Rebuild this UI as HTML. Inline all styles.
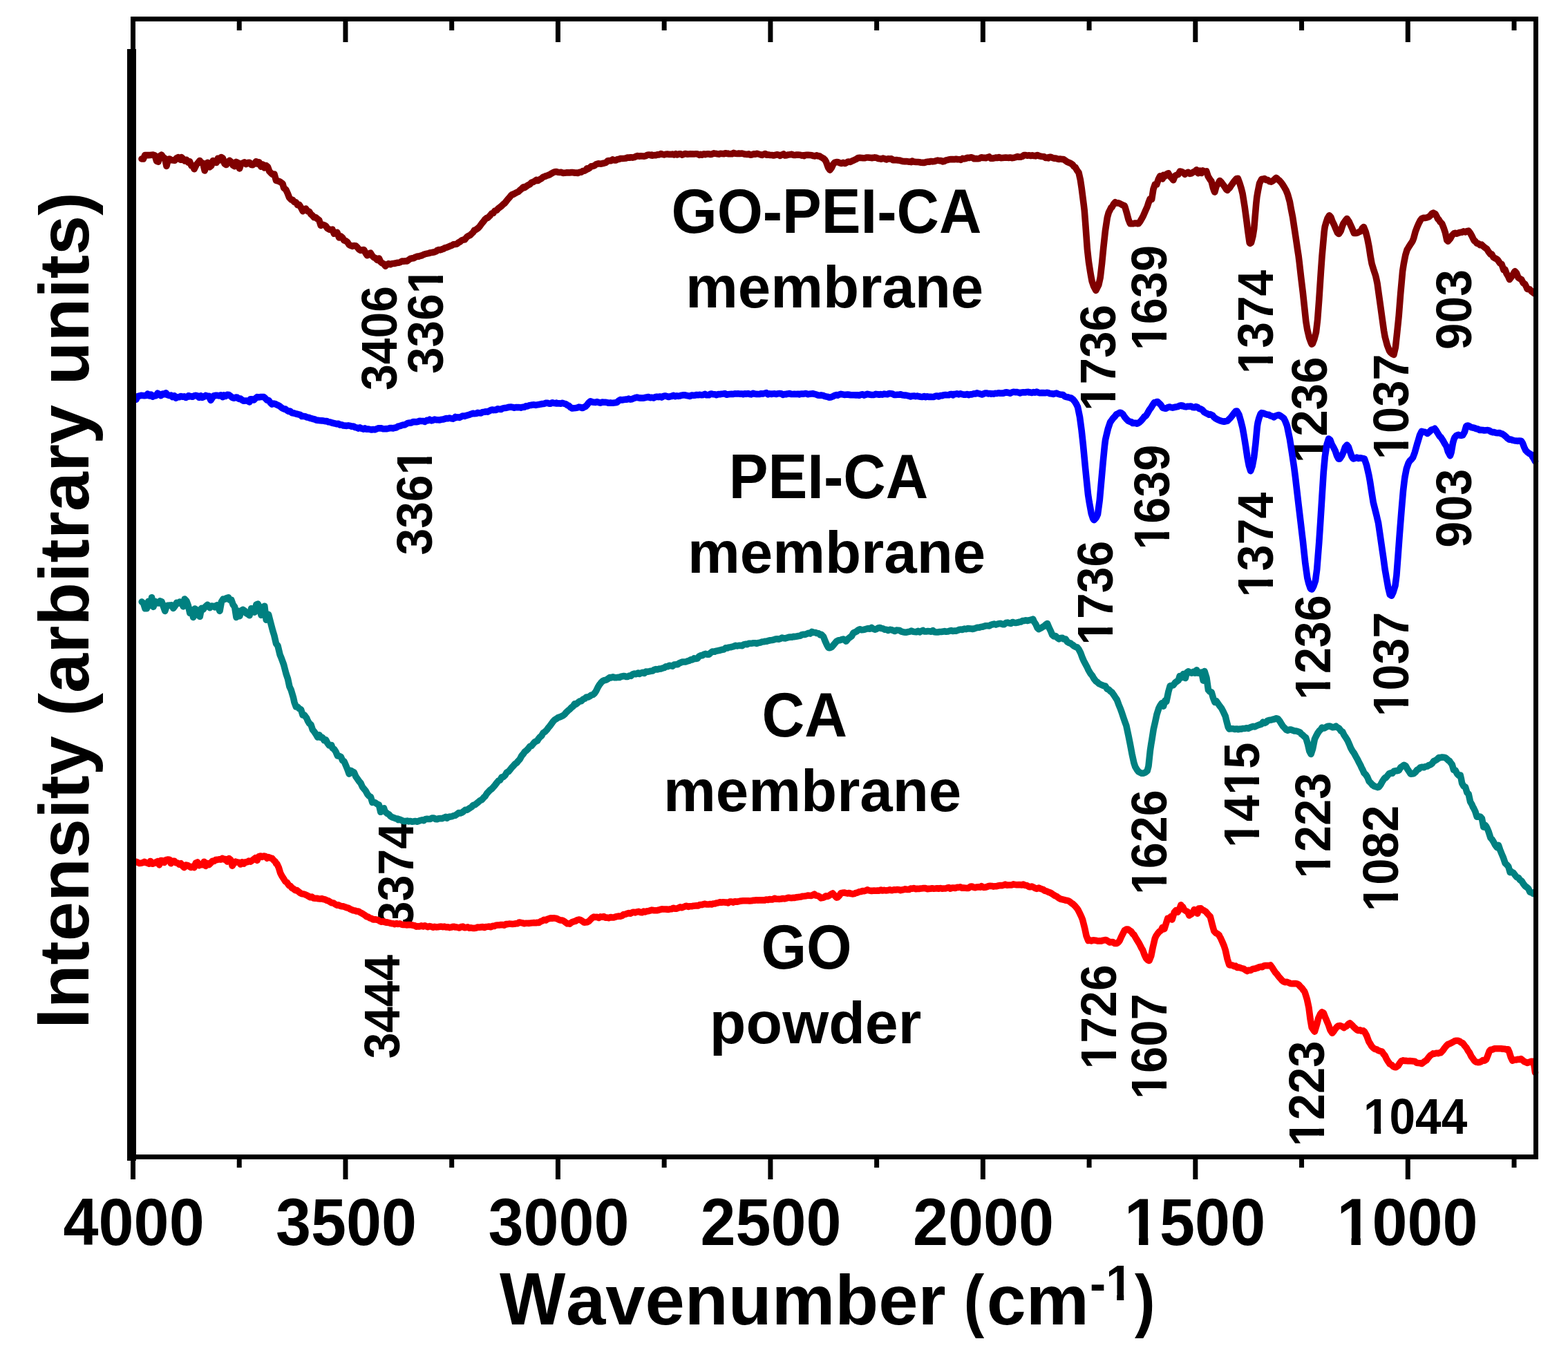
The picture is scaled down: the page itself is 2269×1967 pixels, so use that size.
<!DOCTYPE html><html><head><meta charset="utf-8"><style>html,body{margin:0;padding:0;background:#fff;overflow:hidden;}svg{display:block;}text{font-family:"Liberation Sans",Arial,sans-serif;font-weight:bold;fill:#000;}</style></head><body>
<svg width="2269" height="1967" viewBox="0 0 2269 1967">
<rect x="0" y="0" width="2269" height="1967" fill="#fff"/>
<text transform="translate(91.55,1801.7) scale(0.9530,1)" font-size="96.3">4000</text>
<text transform="translate(399.01,1801.7) scale(0.9530,1)" font-size="96.3">3500</text>
<text transform="translate(706.48,1801.7) scale(0.9530,1)" font-size="96.3">3000</text>
<text transform="translate(1013.48,1801.7) scale(0.9530,1)" font-size="96.3">2500</text>
<text transform="translate(1320.95,1801.7) scale(0.9530,1)" font-size="96.3">2000</text>
<text transform="translate(1627.04,1801.7) scale(0.9530,1)" font-size="96.3">1500</text>
<text transform="translate(1934.5,1801.7) scale(0.9530,1)" font-size="96.3">1000</text>
<text transform="translate(723.1,1916.8) scale(0.9445,1)" font-size="107">W</text>
<text transform="translate(818.91,1916.8) scale(1.0162,1)" font-size="101.4">avenumber</text>
<text transform="translate(1394.54,1915.9) scale(0.8929,1)" font-size="100">(</text>
<text transform="translate(1427.8,1916.8) scale(1.0097,1)" font-size="101.4">cm</text>
<text transform="translate(1577.12,1881.9) scale(0.9595,1)" font-size="72.46">-1</text>
<text transform="translate(1642,1915.82) scale(0.8902,1)" font-size="99.89">)</text>
<text transform="translate(128.1,1489.2) rotate(-90) scale(1.0,1)" font-size="102.8"><tspan font-size="107.7">I</tspan>ntensity <tspan font-size="100.75">(</tspan>arbitrary units<tspan font-size="100.75">)</tspan></text>
<text transform="translate(971.5,337) scale(0.9418,1)" font-size="90.3">GO-PEI-CA</text>
<text transform="translate(992.03,444.9) scale(0.9997,1)" font-size="85.3">membrane</text>
<text transform="translate(1054.74,721.3) scale(0.9411,1)" font-size="90.5">PEI-CA</text>
<text transform="translate(995.03,828.8) scale(0.9994,1)" font-size="85.3">membrane</text>
<text transform="translate(1102.48,1065.6) scale(0.9453,1)" font-size="90.5">CA</text>
<text transform="translate(960.03,1173.9) scale(0.9997,1)" font-size="85.3">membrane</text>
<text transform="translate(1101.53,1401.9) scale(0.9313,1)" font-size="90.5">GO</text>
<text transform="translate(1026.87,1509.9) scale(1.0105,1)" font-size="85.3">powder</text>
<text transform="translate(1972.94,1640.98) scale(0.9447,1)" font-size="71.55">1044</text>
<text transform="translate(574.02,564.96) rotate(-90) scale(0.9494,1)" font-size="71.5">3406</text>
<text transform="translate(641.12,540.99) rotate(-90) scale(0.9701,1)" font-size="71.5">3361</text>
<text transform="translate(624.92,803.49) rotate(-90) scale(0.9728,1)" font-size="71.5">3361</text>
<text transform="translate(598.22,1342.46) rotate(-90) scale(0.9530,1)" font-size="71.5">3374</text>
<text transform="translate(578.37,1532.35) rotate(-90) scale(0.9453,1)" font-size="71.5">3444</text>
<text transform="translate(1613.87,594.95) rotate(-90) scale(0.9672,1)" font-size="71.5">1736</text>
<text transform="translate(1688.07,507.31) rotate(-90) scale(0.9580,1)" font-size="71.5">1639</text>
<text transform="translate(1841.57,541.36) rotate(-90) scale(0.9473,1)" font-size="71.5">1374</text>
<text transform="translate(1920.17,670.35) rotate(-90) scale(0.9679,1)" font-size="71.5">1236</text>
<text transform="translate(2038.07,665.22) rotate(-90) scale(0.9605,1)" font-size="71.5">1037</text>
<text transform="translate(2129.37,506.18) rotate(-90) scale(0.9737,1)" font-size="71.5">903</text>
<text transform="translate(1609.52,933.67) rotate(-90) scale(0.9495,1)" font-size="71.5">1736</text>
<text transform="translate(1691.87,795.8) rotate(-90) scale(0.9560,1)" font-size="71.5">1639</text>
<text transform="translate(1841.57,864.39) rotate(-90) scale(0.9538,1)" font-size="71.5">1374</text>
<text transform="translate(1924.57,1012.93) rotate(-90) scale(0.9530,1)" font-size="71.5">1236</text>
<text transform="translate(2037.77,1037.34) rotate(-90) scale(0.9530,1)" font-size="71.5">1037</text>
<text transform="translate(2129.47,792.84) rotate(-90) scale(0.9579,1)" font-size="71.5">903</text>
<text transform="translate(1687.97,1295.03) rotate(-90) scale(0.9530,1)" font-size="71.5">1626</text>
<text transform="translate(1822.16,1227.11) rotate(-90) scale(0.9588,1)" font-size="71.5">1415</text>
<text transform="translate(1924.97,1271.42) rotate(-90) scale(0.9606,1)" font-size="71.5">1223</text>
<text transform="translate(2022.82,1319.14) rotate(-90) scale(0.9652,1)" font-size="71.5">1082</text>
<text transform="translate(1614.57,1547.48) rotate(-90) scale(0.9508,1)" font-size="71.5">1726</text>
<text transform="translate(1687.67,1591.12) rotate(-90) scale(0.9612,1)" font-size="71.5">1607</text>
<text transform="translate(1915.97,1659.42) rotate(-90) scale(0.9606,1)" font-size="71.5">1223</text>
<g transform="translate(1627.04,1801.7) scale(0.9530,1)"><rect x="4.33" y="-12.52" width="17.72" height="14.44" fill="#fff"/><rect x="36.02" y="-12.52" width="16.47" height="14.44" fill="#fff"/></g>
<g transform="translate(1934.5,1801.7) scale(0.9530,1)"><rect x="4.33" y="-12.52" width="17.72" height="14.44" fill="#fff"/><rect x="36.02" y="-12.52" width="16.47" height="14.44" fill="#fff"/></g>
<g transform="translate(1577.12,1881.9) scale(0.9595,1)"><rect x="27.39" y="-9.42" width="13.33" height="10.87" fill="#fff"/><rect x="51.23" y="-9.42" width="12.39" height="10.87" fill="#fff"/></g>
<g transform="translate(1972.94,1640.98) scale(0.9447,1)"><rect x="3.22" y="-9.3" width="13.17" height="10.73" fill="#fff"/><rect x="26.76" y="-9.3" width="12.23" height="10.73" fill="#fff"/></g>
<g transform="translate(641.12,540.99) rotate(-90) scale(0.9701,1)"><rect x="122.51" y="-9.29" width="13.16" height="10.72" fill="#fff"/><rect x="146.04" y="-9.29" width="12.23" height="10.72" fill="#fff"/></g>
<g transform="translate(624.92,803.49) rotate(-90) scale(0.9728,1)"><rect x="122.51" y="-9.29" width="13.16" height="10.72" fill="#fff"/><rect x="146.04" y="-9.29" width="12.23" height="10.72" fill="#fff"/></g>
<g transform="translate(1613.87,594.95) rotate(-90) scale(0.9672,1)"><rect x="3.22" y="-9.29" width="13.16" height="10.72" fill="#fff"/><rect x="26.74" y="-9.29" width="12.23" height="10.72" fill="#fff"/></g>
<g transform="translate(1688.07,507.31) rotate(-90) scale(0.9580,1)"><rect x="3.22" y="-9.29" width="13.16" height="10.72" fill="#fff"/><rect x="26.74" y="-9.29" width="12.23" height="10.72" fill="#fff"/></g>
<g transform="translate(1841.57,541.36) rotate(-90) scale(0.9473,1)"><rect x="3.22" y="-9.29" width="13.16" height="10.72" fill="#fff"/><rect x="26.74" y="-9.29" width="12.23" height="10.72" fill="#fff"/></g>
<g transform="translate(1920.17,670.35) rotate(-90) scale(0.9679,1)"><rect x="3.22" y="-9.29" width="13.16" height="10.72" fill="#fff"/><rect x="26.74" y="-9.29" width="12.23" height="10.72" fill="#fff"/></g>
<g transform="translate(2038.07,665.22) rotate(-90) scale(0.9605,1)"><rect x="3.22" y="-9.29" width="13.16" height="10.72" fill="#fff"/><rect x="26.74" y="-9.29" width="12.23" height="10.72" fill="#fff"/></g>
<g transform="translate(1609.52,933.67) rotate(-90) scale(0.9495,1)"><rect x="3.22" y="-9.29" width="13.16" height="10.72" fill="#fff"/><rect x="26.74" y="-9.29" width="12.23" height="10.72" fill="#fff"/></g>
<g transform="translate(1691.87,795.8) rotate(-90) scale(0.9560,1)"><rect x="3.22" y="-9.29" width="13.16" height="10.72" fill="#fff"/><rect x="26.74" y="-9.29" width="12.23" height="10.72" fill="#fff"/></g>
<g transform="translate(1841.57,864.39) rotate(-90) scale(0.9538,1)"><rect x="3.22" y="-9.29" width="13.16" height="10.72" fill="#fff"/><rect x="26.74" y="-9.29" width="12.23" height="10.72" fill="#fff"/></g>
<g transform="translate(1924.57,1012.93) rotate(-90) scale(0.9530,1)"><rect x="3.22" y="-9.29" width="13.16" height="10.72" fill="#fff"/><rect x="26.74" y="-9.29" width="12.23" height="10.72" fill="#fff"/></g>
<g transform="translate(2037.77,1037.34) rotate(-90) scale(0.9530,1)"><rect x="3.22" y="-9.29" width="13.16" height="10.72" fill="#fff"/><rect x="26.74" y="-9.29" width="12.23" height="10.72" fill="#fff"/></g>
<g transform="translate(1687.97,1295.03) rotate(-90) scale(0.9530,1)"><rect x="3.22" y="-9.29" width="13.16" height="10.72" fill="#fff"/><rect x="26.74" y="-9.29" width="12.23" height="10.72" fill="#fff"/></g>
<g transform="translate(1822.16,1227.11) rotate(-90) scale(0.9588,1)"><rect x="3.22" y="-9.29" width="13.16" height="10.72" fill="#fff"/><rect x="26.74" y="-9.29" width="12.23" height="10.72" fill="#fff"/></g>
<g transform="translate(1822.16,1227.11) rotate(-90) scale(0.9588,1)"><rect x="82.75" y="-9.29" width="13.16" height="10.72" fill="#fff"/><rect x="106.27" y="-9.29" width="12.23" height="10.72" fill="#fff"/></g>
<g transform="translate(1924.97,1271.42) rotate(-90) scale(0.9606,1)"><rect x="3.22" y="-9.29" width="13.16" height="10.72" fill="#fff"/><rect x="26.74" y="-9.29" width="12.23" height="10.72" fill="#fff"/></g>
<g transform="translate(2022.82,1319.14) rotate(-90) scale(0.9652,1)"><rect x="3.22" y="-9.29" width="13.16" height="10.72" fill="#fff"/><rect x="26.74" y="-9.29" width="12.23" height="10.72" fill="#fff"/></g>
<g transform="translate(1614.57,1547.48) rotate(-90) scale(0.9508,1)"><rect x="3.22" y="-9.29" width="13.16" height="10.72" fill="#fff"/><rect x="26.74" y="-9.29" width="12.23" height="10.72" fill="#fff"/></g>
<g transform="translate(1687.67,1591.12) rotate(-90) scale(0.9612,1)"><rect x="3.22" y="-9.29" width="13.16" height="10.72" fill="#fff"/><rect x="26.74" y="-9.29" width="12.23" height="10.72" fill="#fff"/></g>
<g transform="translate(1915.97,1659.42) rotate(-90) scale(0.9606,1)"><rect x="3.22" y="-9.29" width="13.16" height="10.72" fill="#fff"/><rect x="26.74" y="-9.29" width="12.23" height="10.72" fill="#fff"/></g>
<path d="M196.9,1247.27 L199.3,1248.28 L201.7,1249.49 L204.1,1249.19 L206.5,1248.67 L208.9,1247.37 L211.3,1248.53 L213.7,1249.24 L216.1,1250.18 L217.6,1246.52 L218.5,1247.14 L220.9,1250.15 L223.3,1249.3 L225.7,1247.87 L228.1,1246.67 L230.5,1251.83 L232.9,1245.63 L235.3,1245.87 L237.7,1248.44 L240.1,1244.66 L242.5,1244.15 L245.2,1244.36 L247.3,1249.72 L249.7,1246.28 L252.1,1246.19 L254.5,1248.7 L256.9,1249.02 L259.3,1251.15 L261.7,1249.84 L264.1,1253.29 L266.5,1255.69 L268.9,1252.04 L271.3,1252.41 L273.7,1253.93 L276.1,1255.42 L278.5,1254.18 L281,1255.63 L283.3,1249.1 L285.7,1248.03 L288.1,1252.64 L290.5,1251.28 L292.9,1251.68 L295.3,1247.3 L297.7,1253.41 L300.3,1249.51 L302.5,1251.62 L304.9,1249.19 L307.3,1246.25 L309.7,1246.56 L312.1,1244.6 L314.5,1244.36 L316.9,1243.86 L319.6,1244.08 L321.7,1242.36 L324.1,1243.89 L326.5,1243.48 L328.9,1247.1 L331.3,1242.53 L333.7,1244.5 L336.1,1253.18 L338.9,1248.48 L340.9,1247.1 L343.3,1248.04 L345.7,1248.29 L348.1,1250.96 L350.5,1247.88 L352.9,1250.07 L355.5,1247.89 L357.7,1247.69 L360.1,1246.15 L362.5,1247.19 L364.9,1245.47 L367.3,1243.6 L369.7,1241.66 L372.1,1245.34 L374.5,1239.74 L377.5,1238.98 L379.3,1240.34 L381.7,1239.03 L384.1,1239.47 L386.5,1242.21 L388.6,1240.67 L391.3,1241.79 L393.7,1242.44 L396.1,1245.27 L398.5,1247.17 L399.6,1249.93 L400.9,1250.36 L403.3,1255.67 L405.7,1263.54 L407.9,1267.98 L410.5,1271.94 L412.9,1275.73 L415.3,1277.34 L417.7,1280.95 L418.9,1282.16 L420.1,1282.2 L422.5,1285.25 L424.9,1286.57 L427.3,1288.59 L429.7,1288.62 L432.7,1291.19 L434.5,1292.5 L436.9,1293.76 L439.3,1293.94 L441.7,1294.76 L444.1,1295.84 L446.5,1297.25 L449.2,1298.8 L451.3,1298.15 L453.7,1300.01 L456.1,1300.21 L458.5,1300.18 L460.9,1300.68 L463.3,1300.97 L465.8,1300.65 L468.1,1301.58 L470.5,1302.01 L472.9,1303.33 L475.3,1303.93 L477.7,1305.44 L480.1,1306.76 L482.5,1306.98 L484.9,1308.68 L487.9,1310.17 L489.7,1309.72 L492.1,1311.19 L494.5,1311.74 L496.9,1311.84 L499.3,1312.86 L501.7,1313.77 L504.1,1314.13 L506.5,1315.8 L508.9,1316.72 L511.3,1317.71 L513.7,1317.93 L515.4,1318.97 L518.5,1319.03 L520.9,1320.41 L523.3,1321.67 L525.7,1323.15 L528.1,1324.54 L530.5,1326.64 L532.9,1327.23 L535.3,1328.89 L537.7,1329.42 L540.1,1331.05 L543,1330.77 L544.9,1331.15 L547.3,1331.74 L549.7,1333.25 L552.1,1334.16 L554.5,1333.48 L556.9,1334.71 L559.3,1334.88 L561.7,1335.21 L564.1,1336 L566.5,1336.64 L568.9,1336.79 L571.3,1337.6 L573.7,1336.49 L576.1,1337.39 L578.5,1336.9 L580.9,1338.03 L583.3,1338.42 L585.7,1338.58 L588.1,1338.84 L590.5,1338.66 L592.9,1338.65 L595.3,1338.7 L597.7,1339.25 L600.1,1339.73 L602.5,1341.13 L604.9,1340.66 L607.3,1340.96 L609.7,1339.83 L612.1,1340.96 L614.5,1339.71 L617.5,1341.06 L619.3,1341.72 L621.7,1340.67 L624.1,1341.17 L626.5,1342.23 L628.9,1341.4 L631.3,1341.84 L633.7,1341.71 L636.1,1341.3 L638.5,1341.04 L640.9,1341.66 L643.3,1341.16 L645.7,1342.04 L648.1,1341.72 L650.5,1342.58 L652.9,1342.13 L655.3,1341.33 L657.7,1341.39 L658.8,1341.97 L660.1,1341.85 L662.5,1342.37 L664.9,1343 L667.3,1341.53 L669.7,1341.13 L672.1,1342.71 L674.5,1342.44 L676.9,1341.89 L679.3,1343.17 L681.7,1342.85 L684.1,1343.44 L686.4,1343.41 L688.9,1343.05 L691.3,1342 L693.7,1342.17 L696.1,1341.88 L698.5,1341.65 L700.9,1342.45 L703.3,1341.5 L705.7,1341.32 L708.1,1341.07 L710.5,1341.77 L712.9,1340.25 L715.3,1340.46 L717.7,1339.27 L720.1,1338.95 L722.5,1338.95 L724.9,1338.53 L727.8,1338.6 L729.7,1339.2 L732.1,1337.67 L734.5,1337.63 L736.9,1337.12 L739.3,1337.18 L741.7,1337.51 L744.1,1337.33 L746.5,1336.75 L748.9,1336.79 L750,1335.76 L751.3,1334.99 L753.7,1335.46 L756.1,1335.89 L758.5,1336.67 L760.9,1336.32 L763.3,1336.22 L765.7,1336.38 L768.1,1335.98 L770.5,1335.82 L772.9,1335.66 L775.3,1335.8 L777.6,1335.23 L780.1,1335.38 L782.5,1333.64 L784.9,1332.89 L787.3,1331.26 L789.7,1332 L792.1,1330.29 L794.5,1329.65 L796.9,1328.86 L799.3,1329.13 L801.7,1328.83 L804.1,1329.14 L806.5,1329.88 L808.9,1331.17 L810.7,1332.01 L813.7,1332.06 L816.1,1333.24 L818.5,1335.09 L820.9,1336.83 L823.3,1336.72 L824.5,1337.14 L825.7,1336.12 L828.1,1334.5 L830.5,1333.71 L832.9,1333.17 L835.3,1331.64 L838.3,1331.05 L840.1,1331.6 L842.5,1333.08 L844.9,1334.98 L846.5,1335.11 L849.7,1334.68 L852.1,1333.5 L854.5,1331.02 L856.9,1328.62 L859.3,1327.16 L860.3,1327.3 L861.7,1327.51 L864.1,1327.33 L866.5,1328.5 L868.9,1326.85 L871.3,1327.28 L873.7,1326.6 L876.1,1328.15 L878.5,1327.96 L880.9,1328.75 L883.3,1327.57 L885.7,1327.86 L887.9,1328.03 L890.5,1327.11 L892.9,1326.41 L895.3,1326.12 L897.7,1326.33 L900.1,1325.5 L902.5,1323.48 L904.9,1323.44 L907.3,1322.36 L910,1321.48 L912.1,1322.23 L914.5,1320.93 L916.9,1320.23 L919.3,1320.88 L921.7,1319.87 L924.1,1319.37 L926.5,1320.54 L928.9,1320.8 L931.3,1319.14 L933.7,1319.85 L936.1,1318.81 L938.5,1318.66 L940.9,1317.99 L943,1317.14 L945.7,1317.6 L948.1,1317.68 L950.5,1317.82 L952.9,1317.31 L955.3,1316.46 L957.7,1315.88 L960.1,1315.98 L962.5,1315.98 L964.9,1316.11 L967.3,1316.4 L969.7,1315.8 L972.1,1315.67 L974.5,1314.22 L976.9,1315.15 L979.3,1315.1 L981.7,1314.15 L984.4,1312.73 L986.5,1313.79 L988.9,1312.84 L991.3,1311.8 L993.7,1311.29 L996.1,1312.37 L998.5,1311.71 L1000.9,1311.82 L1003.3,1311.18 L1005.7,1310.98 L1008.1,1310.82 L1010.5,1310.88 L1012.9,1309.43 L1015.3,1309.58 L1017.7,1308.83 L1020.1,1308.29 L1022.5,1309.01 L1025.8,1309.04 L1027.3,1308.56 L1029.7,1309.02 L1032.1,1307.95 L1034.5,1307.91 L1036.9,1307.09 L1039.3,1306.69 L1041.7,1305.87 L1044.1,1306.21 L1046.5,1305.77 L1048.9,1306.1 L1051.3,1306.11 L1053.7,1306.84 L1056.1,1305.13 L1058.5,1305.16 L1060.9,1306.1 L1063.3,1304.7 L1065.7,1305.22 L1067.2,1305.16 L1070.5,1304.26 L1072.9,1303.99 L1075.3,1303.81 L1077.7,1303.8 L1080.1,1303.82 L1082.5,1303.68 L1084.9,1304.03 L1087.3,1303.82 L1089.7,1303.26 L1092.1,1303.14 L1094.5,1302.76 L1096.9,1303.1 L1099.3,1302.74 L1101.7,1302.87 L1104.1,1302.69 L1106.5,1303.07 L1108.5,1302.02 L1111.3,1302.39 L1113.7,1301.5 L1116.1,1301.92 L1118.5,1301.89 L1120.9,1300.25 L1123.3,1301.32 L1125.7,1301.29 L1128.1,1301.33 L1130.5,1301.03 L1132.9,1300.46 L1135.3,1300.85 L1137.7,1300.32 L1140.1,1299.38 L1142.5,1299.37 L1144.9,1299.75 L1147.3,1299.42 L1149.9,1299.46 L1152.1,1298.83 L1154.5,1298.65 L1156.9,1298.21 L1159.3,1297.94 L1161.7,1297.17 L1164.1,1297.01 L1166.5,1296.77 L1168.9,1296.06 L1171.3,1296.27 L1173.7,1296.45 L1176.1,1295.54 L1178.5,1294.18 L1180.2,1296.1 L1183.3,1296.43 L1185.7,1297.69 L1188.1,1299.83 L1191.3,1299.34 L1192.9,1298.49 L1195.3,1296.78 L1197.7,1297.52 L1200.1,1296.04 L1202.5,1294.24 L1205,1293 L1207.3,1295.72 L1210.6,1299.06 L1212.1,1298.71 L1214.5,1296.39 L1216.9,1292.74 L1218.8,1292.31 L1221.7,1292.03 L1224.1,1292.57 L1226.5,1293.09 L1228.9,1292.46 L1231.3,1293.45 L1232.6,1293.55 L1233.7,1293.88 L1236.1,1293.53 L1238.5,1292.41 L1240.9,1291.97 L1243.3,1290.76 L1246.4,1290.47 L1248.1,1289.46 L1250.5,1289.78 L1252.9,1289.02 L1255.3,1287.86 L1257.7,1288.85 L1260.1,1289.39 L1262.5,1289.41 L1264.9,1288.95 L1267.3,1289.18 L1269.7,1288.92 L1272.1,1289.15 L1274.5,1287.99 L1276.9,1289 L1279.3,1288.42 L1281.7,1288.9 L1284.1,1288.67 L1286.5,1288.31 L1287.8,1287.75 L1288.9,1288.44 L1291.3,1288.63 L1293.7,1287.71 L1296.1,1287.98 L1298.5,1287.59 L1300.9,1287.78 L1303.3,1288.62 L1305.7,1288.03 L1308.1,1287.55 L1310,1286.85 L1312.9,1287.47 L1315.3,1287.56 L1317.7,1286.13 L1320.1,1286.32 L1322.5,1285.52 L1324.9,1286.61 L1327.3,1286.36 L1329.7,1286.51 L1332.1,1286 L1334.5,1285.86 L1336.9,1285.53 L1339.3,1285.58 L1341.7,1286.64 L1344.1,1286.4 L1346.5,1286.28 L1348.9,1285.81 L1351.3,1286.24 L1353.7,1286.06 L1356.1,1285.73 L1358.5,1286.28 L1360.9,1285.5 L1363.3,1286.24 L1365.2,1285.95 L1368.1,1285.98 L1370.5,1285.18 L1372.9,1284.58 L1375.3,1286.17 L1377.7,1285.06 L1380.1,1284.97 L1382.5,1285.41 L1384.9,1284.33 L1387.3,1284.45 L1389.7,1283.87 L1392.1,1285.19 L1394.5,1284.91 L1396.9,1285.16 L1399.3,1285.42 L1401.7,1285.39 L1404.1,1283.33 L1406.5,1282.94 L1408.9,1284.22 L1411.3,1284.69 L1413.7,1283.93 L1416.1,1283.69 L1418.5,1284.13 L1420.3,1282.72 L1423.3,1284.35 L1425.7,1284.25 L1428.1,1283.65 L1430.5,1282.47 L1432.9,1282.33 L1435.3,1282.47 L1437.7,1283.1 L1440.1,1282.81 L1442.5,1282.64 L1444.9,1281.94 L1447.3,1281.46 L1449.7,1281.73 L1452.1,1281.12 L1454.5,1280.14 L1456.9,1281.3 L1459.3,1280.93 L1461.7,1281 L1464.1,1281.01 L1466.5,1279.88 L1468.9,1280.36 L1471.3,1280.8 L1473.7,1280.62 L1475.5,1280.54 L1478.5,1280.89 L1480.9,1279.98 L1483.3,1281.55 L1485.7,1281.5 L1488.1,1283.06 L1490.5,1283.8 L1492.9,1283.13 L1495.3,1283.98 L1497.7,1285.45 L1500.1,1286.35 L1503.1,1285.05 L1504.9,1285.91 L1507.3,1286.79 L1509.7,1287.57 L1512.1,1289.38 L1514.5,1289.86 L1516.8,1291.1 L1519.3,1291.88 L1521.7,1293.12 L1524.1,1294.82 L1526.5,1296.39 L1528.9,1297.47 L1530.6,1298.74 L1533.7,1300.83 L1536.1,1301.51 L1538.5,1302.08 L1540.9,1302.73 L1543.3,1303.32 L1545.7,1303.66 L1547.2,1304.43 L1550.5,1307.1 L1552.9,1308.65 L1555.3,1310.97 L1558.2,1314.31 L1560.1,1317.02 L1562.5,1321.92 L1564.9,1327.01 L1566.5,1331.07 L1569.7,1343.48 L1572.1,1354.68 L1574.8,1361.33 L1576.9,1360.72 L1579.3,1361.84 L1581.7,1360.79 L1584.1,1361.04 L1585.8,1361.23 L1588.9,1362.05 L1591.3,1361.83 L1593.7,1362.01 L1596.1,1361.11 L1598.5,1360.68 L1599.6,1360.49 L1600.9,1360.78 L1603.3,1362.14 L1605.7,1363.9 L1608.1,1363.53 L1610.5,1363.58 L1612.9,1365.43 L1616.1,1365.43 L1617.7,1364.48 L1620.1,1361.62 L1622.5,1356.18 L1624.9,1351.38 L1627.3,1346.69 L1629.9,1345.13 L1632.1,1344.94 L1634.5,1346.7 L1636.9,1348.33 L1639.3,1351.82 L1640.9,1352.79 L1644.1,1358.5 L1646.5,1362.39 L1648.9,1366.33 L1652,1372.47 L1653.7,1375.32 L1656.1,1381.85 L1658.5,1386.94 L1660.9,1389.6 L1663,1390.45 L1665.7,1383.8 L1668.1,1371.76 L1671.3,1358.2 L1672.9,1354.64 L1675.3,1351.14 L1677.7,1348.26 L1680.1,1346.71 L1682.3,1342.19 L1684.9,1344.59 L1687.3,1336.84 L1689.7,1329.46 L1692.1,1330.06 L1694.5,1326.33 L1696.1,1330.96 L1699.3,1320.34 L1701.7,1317.62 L1704.1,1320.18 L1706.5,1316.37 L1708.9,1309.79 L1709.9,1312.87 L1711.3,1312.2 L1713.7,1316.97 L1716.1,1318.52 L1718.5,1319.61 L1720.9,1325.03 L1723.7,1323.28 L1725.7,1321.52 L1728.1,1316.48 L1730.5,1318.22 L1732.9,1322.16 L1734.7,1314.99 L1737.7,1314.77 L1740.1,1316.98 L1742.5,1317.97 L1744.9,1319.5 L1747.3,1322.4 L1749.7,1325.11 L1751.3,1326.72 L1754.5,1339.21 L1756.8,1347.54 L1759.3,1350.35 L1761.7,1351.56 L1764.1,1353.49 L1765,1355.62 L1766.5,1358.09 L1768.9,1363.46 L1771.3,1369.14 L1773.3,1375.37 L1776.1,1388.1 L1778.8,1396.49 L1780.9,1396.96 L1783.3,1397.03 L1785.7,1398.59 L1788.1,1398.13 L1790.5,1400.43 L1792.6,1400.03 L1795.3,1401 L1797.7,1401.73 L1800.1,1402.45 L1802.5,1404.27 L1804.9,1405.52 L1806.4,1404.4 L1809.7,1404.48 L1812.1,1402.86 L1814.5,1402.21 L1816.9,1401.93 L1819.3,1400.77 L1820.2,1400.88 L1821.7,1399.95 L1824.1,1399.25 L1826.5,1399.64 L1828.9,1398.06 L1831.3,1397.58 L1833.7,1397.49 L1836.8,1397.64 L1838.5,1396.99 L1840.9,1400.26 L1843.3,1404.18 L1845.7,1407.73 L1848.1,1410.36 L1850.5,1413.55 L1852.9,1416.29 L1855.3,1419.16 L1857.7,1420.93 L1860,1421.58 L1862.5,1421.31 L1864.9,1422.31 L1867.3,1423.55 L1869.7,1423.76 L1872.1,1423.58 L1874.5,1423.5 L1877,1423.91 L1879.3,1425.23 L1881.7,1427.96 L1884.1,1430.18 L1886.5,1433.7 L1887.6,1434.95 L1888.9,1438.29 L1891.3,1446.11 L1893.9,1458.18 L1896.1,1475.19 L1898.2,1487.08 L1900.9,1491.25 L1902.4,1493.12 L1905.7,1482.01 L1907.7,1474.01 L1910.5,1467.92 L1913,1464.93 L1915.3,1466.21 L1917.7,1472.51 L1919.4,1476.29 L1922.5,1483.78 L1924.9,1490.77 L1927.9,1495.22 L1929.7,1493.13 L1932.1,1489.41 L1934.5,1486.39 L1936.3,1484.94 L1939.3,1484.62 L1941.7,1485.43 L1944.8,1487.6 L1946.5,1486.18 L1948.9,1485.07 L1951.3,1482.13 L1953.3,1480.97 L1956.1,1483.44 L1958.5,1485.93 L1960.9,1488.23 L1963.9,1490.79 L1965.7,1491.55 L1968.1,1490.82 L1970.5,1492.27 L1972.9,1491.9 L1974.5,1493.2 L1977.7,1499.13 L1980.9,1507.84 L1982.5,1510.16 L1984.9,1514.39 L1987.3,1516.68 L1989.3,1518.24 L1992.1,1518.91 L1994.5,1520.45 L1996.9,1521.35 L1999.9,1522.22 L2001.7,1525.1 L2004.1,1527.95 L2006.5,1532.85 L2008.4,1536.04 L2011.3,1540.1 L2013.7,1541.36 L2016.1,1543.63 L2018.5,1544.8 L2020.1,1544.76 L2023.3,1542.4 L2025.7,1538.57 L2028.1,1535.45 L2029.6,1535.51 L2030.5,1534.77 L2032.9,1535.42 L2035.3,1535.4 L2037.7,1535.72 L2040.1,1535.58 L2042.4,1535.81 L2044.9,1536.01 L2047.3,1536.17 L2049.7,1538.17 L2052.1,1538.49 L2054.5,1538.68 L2057.2,1539.5 L2059.3,1537.99 L2061.7,1536.16 L2064.1,1534.74 L2066.5,1531.58 L2068.9,1528.63 L2069.9,1527.52 L2071.3,1526.79 L2073.7,1524.92 L2076.1,1525.13 L2078.5,1524.21 L2080.9,1524.6 L2083.3,1523.85 L2084.8,1523.82 L2088.1,1520.25 L2090.5,1516.76 L2092.9,1513.93 L2095.4,1511.33 L2097.7,1510.8 L2100.1,1509.5 L2102.5,1508.23 L2104.9,1506.77 L2107.3,1506.31 L2110.2,1506.31 L2112.1,1507.12 L2114.5,1509.02 L2116.9,1510.03 L2119.3,1513.39 L2121.7,1516.13 L2122.9,1518.08 L2124.1,1520.4 L2126.5,1523.67 L2128.9,1528.65 L2131.3,1532.1 L2133.7,1535.52 L2135.7,1537.02 L2138.5,1537.65 L2140.9,1537.51 L2143.3,1536.57 L2145.7,1534.64 L2148.1,1535.2 L2150.5,1533.75 L2152.9,1527.74 L2155.3,1521.29 L2156.9,1519.57 L2160.1,1519.01 L2162.5,1517.74 L2164.9,1517.77 L2167.5,1517.74 L2169.7,1517.8 L2172.1,1517.75 L2174.5,1518.17 L2176.9,1518.21 L2179.3,1518.91 L2182.3,1518.91 L2184.1,1523.03 L2186.5,1530.75 L2188.7,1535.27 L2191.3,1534.03 L2193.7,1534.07 L2196.1,1533.3 L2199.3,1533.37 L2200.9,1532.59 L2203.3,1534.47 L2205.7,1536.58 L2208.1,1537.32 L2209.9,1538.42 L2212.9,1537.36 L2215.3,1536.33 L2218.4,1536.24 L2220.1,1542.8 L2221.5,1552.43" fill="none" stroke="#ff0000" stroke-width="9.6" stroke-linejoin="round" stroke-linecap="round"/>
<path d="M205.2,871.13 L207.6,873.16 L210,880.68 L212.4,880.65 L214.8,870.3 L217.6,876.41 L219.6,864.74 L222,878.37 L224.4,870.43 L226.8,872.9 L229.2,873.06 L231.6,870 L234.1,870.97 L236.4,877.55 L238.8,884.37 L241.2,876.92 L243.6,876.19 L246,876.17 L248.4,875.89 L250.8,880.36 L253.4,876.86 L255.6,872.31 L258,873.4 L260.4,871.02 L262.8,872.23 L265.2,877.85 L267.2,867.06 L270,870.05 L272.4,876.73 L274.8,887.45 L277.2,882.57 L279.6,893.54 L281,889.02 L282,880.96 L284.4,882.48 L286.8,889.92 L289.2,892.55 L291.6,880.38 L294,882.14 L296.4,878.79 L298.8,876.7 L300.3,875.38 L303.6,879.64 L306,877.03 L308.4,877.17 L310.8,878.74 L313.2,876.41 L314.1,875.87 L315.6,878.56 L318,884.39 L320.4,871.05 L322.8,867.18 L325.2,867.47 L327.6,865.85 L330.7,864.83 L332.4,868.28 L334.8,868.38 L337.2,875.11 L339.6,878.34 L342,893.56 L344.4,884.11 L346.8,891.75 L349.2,883.9 L351.6,882.41 L354,883.97 L356.4,887.76 L358.8,888.98 L361,890.69 L363.6,880.88 L366,881.17 L368.4,886.21 L370.8,875.15 L373.2,874.15 L374.8,877.37 L378,890.36 L380.4,879.2 L382.8,877.19 L385.2,897.26 L387.6,889.29 L388.6,889.53 L390,894.92 L392.4,904.15 L394.8,913.27 L396.8,919.59 L399.6,931.71 L402,934.57 L405.1,947.53 L406.8,951.59 L409.2,958.24 L410.6,961.98 L411.6,965.84 L414,975.09 L416.4,982.08 L418.9,993.77 L421.2,998.59 L424.4,1009.26 L426,1016.61 L428.4,1023.04 L430.8,1023.18 L432.7,1025.58 L435.6,1027.04 L438,1034.94 L440.4,1034.87 L443.7,1039.27 L445.2,1043.01 L447.6,1047.11 L450,1049.04 L452.4,1056.23 L454.7,1059.02 L457.2,1062.67 L459.6,1067.03 L462,1063.87 L464.4,1067.52 L465.8,1067.13 L466.8,1067.65 L469.2,1071.74 L471.6,1070.99 L474,1075.73 L476.4,1079.05 L479.6,1078.52 L481.2,1082.87 L483.6,1084.5 L486,1088.09 L488.4,1093.94 L490.8,1094.23 L493.4,1095.58 L495.6,1100.61 L498,1102.06 L500.4,1107.7 L502.8,1113.48 L505.2,1120.11 L507.6,1115.19 L509.9,1116.76 L512.4,1118.1 L514.8,1123.86 L517.2,1127.22 L519.6,1130.78 L522,1133.49 L524.4,1138.92 L526.5,1141.55 L529.2,1144.81 L531.6,1149.31 L534,1152.09 L536.4,1153.43 L538.8,1161.5 L540.3,1160.93 L541.2,1161.13 L543.6,1162.2 L546,1164.05 L548.4,1165.03 L550.8,1175.31 L553.2,1170.48 L555.6,1169.97 L556.8,1173.85 L558,1175.39 L560.4,1177.57 L562.8,1178.81 L565.2,1181.42 L567.6,1182.88 L570,1183.62 L572.4,1184.64 L574.8,1185.01 L576.1,1186.44 L577.2,1185.7 L579.6,1186.58 L582,1187.69 L584.4,1188.6 L586.8,1188.44 L589.2,1188.15 L591.6,1188.83 L594,1188.45 L596.4,1189.25 L598.2,1189.07 L601.2,1188.47 L603.6,1189.29 L606,1188.47 L608.4,1187.36 L610.8,1186.92 L613.2,1187.62 L615.6,1185.77 L618,1185.34 L620.2,1185.5 L622.8,1185.38 L625.2,1184.09 L627.6,1183.98 L630,1185.39 L632.4,1185.75 L634.8,1184.74 L637.2,1184.52 L639.6,1184.7 L642,1183.81 L645.1,1182.36 L646.8,1184.11 L649.2,1182.54 L651.6,1181.99 L654,1181.76 L656.4,1180.65 L658.8,1180.2 L661.2,1178.6 L663.6,1176.51 L666,1176.97 L667.1,1176.19 L668.4,1176.24 L670.8,1174.4 L673.2,1172.34 L675.6,1172.22 L678,1170.85 L680.4,1169.23 L682.8,1167.76 L683.7,1166.41 L685.2,1165.12 L687.6,1164.7 L690,1162.63 L692.4,1160.73 L694.8,1158.55 L697.2,1157.53 L700.2,1154.08 L702,1152.63 L704.4,1148.64 L706.8,1146.07 L709.2,1143.45 L711.6,1141.81 L714,1139.12 L716.4,1136.3 L719.5,1132.28 L721.2,1130.22 L723.6,1129.14 L726,1125.01 L728.4,1124.5 L730.8,1122.31 L733.2,1118.21 L736.1,1116.52 L738,1114.17 L740.4,1111.09 L742.8,1108.67 L745.2,1105.81 L747.6,1104.28 L749.8,1101.44 L752.4,1098.68 L754.8,1093.96 L757.2,1091.28 L759.6,1087.81 L762,1086.06 L763.8,1084.33 L766.8,1080.29 L769.2,1079.43 L771.6,1076.52 L774,1073.8 L776.4,1072.65 L777.6,1072.27 L778.8,1070.02 L781.2,1066.93 L783.6,1064.98 L786,1060.82 L788.4,1059.3 L791.4,1056.24 L793.2,1053.66 L795.6,1050.93 L798,1047.68 L800.4,1044.28 L802.8,1041.74 L805.2,1040.29 L807.6,1038.57 L810,1037.89 L812.4,1036.79 L814.8,1035.67 L817.2,1033.79 L819,1031.5 L822,1028.55 L824.4,1026.69 L826.8,1024.15 L829.2,1022.36 L831.6,1018.81 L832.7,1019.56 L834,1018.95 L836.4,1016.85 L838.8,1015.03 L841.2,1014.73 L843.6,1012.15 L846.5,1011.1 L848.4,1009.1 L850.8,1009.01 L853.2,1007.94 L855.6,1006.13 L858,1005.45 L860.3,1003.53 L862.8,999.81 L865.2,994.75 L867.6,990.77 L868.6,989.69 L870,987.76 L872.4,985.49 L874.8,984.64 L877.2,984.09 L879.6,982.64 L882.4,980.46 L884.4,980.89 L886.8,979.8 L889.2,980.61 L891.6,980.78 L894,980.38 L896.4,980.57 L898.8,979.18 L901.7,978.66 L903.6,978.51 L906,979.37 L908.4,979.34 L910.8,978.01 L913.2,978.38 L915.6,975.76 L918,975.06 L920.4,975.78 L922.8,974.22 L923.7,974.08 L925.2,975.35 L927.6,974.16 L930,973.22 L932.4,974.37 L934.8,972.14 L937.2,972.19 L939.6,971.78 L942,971.28 L944.4,970.96 L946.8,969.34 L949.2,968.64 L951.3,969 L954,968.09 L956.4,967.93 L958.8,967.08 L961.2,966.47 L963.6,964.79 L966,964.76 L968.4,963.36 L970.8,963.57 L973.2,964.21 L975.6,962.07 L978.9,961.83 L980.4,961.73 L982.8,960.03 L985.2,959.03 L987.6,958.07 L990,958.01 L992.4,957.87 L994.8,956.97 L997.2,956.35 L999.6,954.82 L1002,954.85 L1004.4,952.81 L1006.5,953.45 L1009.2,953.06 L1011.6,950.06 L1014,948.88 L1016.4,948.62 L1018.8,947.04 L1021.2,946.37 L1023.6,947.31 L1026,947.22 L1028.4,944.77 L1030.8,942.99 L1034.1,943.22 L1035.6,942.37 L1038,941.93 L1040.4,941.58 L1042.8,940.83 L1045.2,940.23 L1047.6,939.89 L1050,937.9 L1052.4,938.01 L1054.8,936.92 L1057.2,936.76 L1059.6,936.16 L1061.6,935.58 L1064.4,934.28 L1066.8,934.99 L1069.2,934.26 L1071.6,934.34 L1074,934.7 L1076.4,932.95 L1078.8,932.33 L1081.2,932.81 L1083.6,931.23 L1086,931.22 L1088.4,931.1 L1090.8,930.81 L1093.2,930.69 L1094.7,931.38 L1098,930.37 L1100.4,929.93 L1102.8,929.05 L1105.2,928.77 L1107.6,928.27 L1110,928.1 L1112.4,927.21 L1114.8,926.71 L1117.2,926.46 L1119.6,926.04 L1122.3,925.07 L1124.4,924.84 L1126.8,925.24 L1129.2,924.46 L1131.6,922.97 L1134,923.79 L1136.4,923.87 L1138.8,923.2 L1141.2,922.39 L1143.6,922.12 L1146,922.16 L1148.4,921.3 L1149.9,921.67 L1153.2,920.99 L1155.6,920.47 L1158,920.21 L1160.4,918.63 L1162.8,918.22 L1165.2,918.45 L1167.6,917.43 L1170,916.26 L1172.4,917.08 L1174.8,914.43 L1177.5,915.5 L1179.6,915.46 L1182,916.51 L1184.4,916.74 L1186.8,918.88 L1188.5,918.24 L1191.6,921.58 L1194,927.79 L1196.4,933.08 L1198.8,937.42 L1200.9,937.77 L1203.6,936.47 L1206,933.58 L1208.4,930.71 L1210.8,928.02 L1213.3,926.83 L1215.6,926.65 L1218,925.7 L1220.4,925.02 L1222.8,926.63 L1224.4,928.08 L1227.6,924.2 L1230,922.37 L1232.4,920.81 L1234.8,916.13 L1238.1,914.56 L1239.6,913.89 L1242,911.66 L1244.4,910.82 L1246.8,911.72 L1249.2,911.47 L1251.6,911.02 L1254,910.19 L1256.4,909.6 L1258.8,910.26 L1260.2,909.39 L1261.2,908.36 L1263.6,910.06 L1266,911.12 L1268.4,910.35 L1270.8,909.01 L1273.2,908.52 L1275.6,909.46 L1278,909.9 L1280.4,911.17 L1282.8,911.29 L1285.2,912.49 L1287.8,911.23 L1290,911.62 L1292.4,912.46 L1294.8,913.42 L1297.2,912.14 L1299.6,912.23 L1302,912.57 L1304.4,914.02 L1306.8,914.68 L1310,915.22 L1311.6,915.21 L1314,914.55 L1316.4,914.29 L1318.8,913.11 L1321.2,914.22 L1323.6,914.43 L1326,914.76 L1328.4,913.46 L1330.8,914.93 L1333.2,913.37 L1335.6,912.46 L1337.6,914.07 L1340.4,914.02 L1342.8,913.45 L1345.2,913.72 L1347.6,914.18 L1350,912.72 L1352.4,914.72 L1354.8,915 L1357.2,914.93 L1359.6,914.57 L1362,914.42 L1365.2,913.89 L1366.8,913.6 L1369.2,914.24 L1371.6,914.06 L1374,913.16 L1376.4,912.56 L1378.8,913.42 L1381.2,912.99 L1383.6,913.09 L1386,912.31 L1388.4,911.28 L1390.8,911.16 L1392.7,911.44 L1395.6,910.11 L1398,910.64 L1400.4,909.5 L1402.8,909.9 L1405.2,909.99 L1407.6,910.49 L1410,909.84 L1412.4,908.87 L1414.8,908.28 L1417.2,908.2 L1420.3,907.26 L1422,907.19 L1424.4,906.46 L1426.8,905.68 L1429.2,905.77 L1431.6,905.89 L1434,904.35 L1436.4,903.73 L1438.8,903.12 L1441.2,904.07 L1443.6,903.21 L1446,902.6 L1447.9,902.42 L1450.8,903.58 L1453.2,903.61 L1455.6,901.53 L1458,901.1 L1460.4,901.77 L1462.8,902.42 L1465.2,900.52 L1467.6,901.14 L1470,901.47 L1472.4,901.12 L1475.5,900.17 L1477.2,900.06 L1479.6,898.6 L1482,898.55 L1484.4,897.7 L1486.8,898.52 L1489.2,897.67 L1491.6,897.34 L1494.8,896.11 L1496.4,899.9 L1498.8,903.41 L1501.2,908.97 L1503.1,910.61 L1506,909.25 L1508.4,907.69 L1510.8,906.27 L1514.1,903.39 L1515.6,902.59 L1518,908.35 L1520.4,913.27 L1522.8,919.04 L1525.1,920.88 L1527.6,920.58 L1530,923.21 L1532.4,924.92 L1534.8,923.42 L1537.2,923.24 L1538.9,924.91 L1542,925.04 L1544.4,928.88 L1546.8,930.31 L1549.2,931.07 L1551.6,933.09 L1552.7,933.34 L1554,935.06 L1556.4,936.33 L1558.8,936.96 L1561,939.73 L1563.6,944.69 L1566.5,952.58 L1568.4,956.81 L1570.8,961.26 L1573.2,965.69 L1574.8,969.34 L1578,974.83 L1580.4,977.71 L1582.8,982 L1585.8,985.99 L1587.6,987.06 L1590,989.38 L1592.4,990.56 L1594.8,991.56 L1597.2,992.7 L1599.6,993.07 L1602,997.17 L1604.4,997.98 L1606.8,1000.58 L1609.2,1002.23 L1611.6,1005.66 L1613.4,1008.48 L1616.4,1013.02 L1618.8,1019.7 L1621.6,1026.56 L1623.6,1032.16 L1626,1039.52 L1628.4,1046.39 L1629.9,1050.46 L1633.2,1066.11 L1635.4,1076.97 L1638,1090.92 L1640.9,1104.31 L1642.8,1109.83 L1645.2,1113.93 L1647.6,1117 L1650,1118.2 L1652,1119.2 L1654.8,1119.09 L1657.2,1118.08 L1660.2,1115.8 L1662,1108.84 L1664.4,1086.23 L1665.8,1076.87 L1666.8,1071.2 L1669.2,1055.67 L1671.3,1046.52 L1674,1033.97 L1676.8,1025.17 L1678.8,1021.26 L1681.2,1017.82 L1683.6,1022.08 L1686,1013.98 L1687.8,1015.45 L1690.8,1001.31 L1693.2,992.69 L1696.1,992.11 L1698,991.57 L1700.4,988.18 L1702.8,986.34 L1705.2,984.8 L1707.1,978.57 L1710,980.79 L1712.4,975.53 L1715.4,981.46 L1717.2,973.65 L1719.6,971.79 L1722,973.4 L1724.4,974.07 L1726.8,972.32 L1729.2,974.29 L1731.6,969.74 L1734,974.17 L1736.4,973.77 L1738.8,973.03 L1741.2,985.1 L1743,971.47 L1746,981.24 L1748.5,998.7 L1750.8,1001.07 L1753.2,1002.01 L1755.6,1010.33 L1756.8,1013.52 L1758,1016.46 L1760.4,1015.07 L1762.8,1018.63 L1765,1021.86 L1767.6,1025.13 L1770,1029.71 L1773.3,1036.87 L1774.8,1043.33 L1777.2,1052.28 L1778.8,1055.08 L1782,1054.82 L1784.4,1054.72 L1786.8,1055.57 L1789.2,1054.93 L1791.6,1055.71 L1792.6,1055.57 L1794,1055.16 L1796.4,1055.15 L1798.8,1054.48 L1801.2,1054.53 L1803.6,1053.69 L1806.4,1054.41 L1808.4,1053.29 L1810.8,1052.28 L1813.2,1051.36 L1815.6,1051.92 L1818,1050.77 L1820.2,1049.71 L1822.8,1048.86 L1825.2,1048.11 L1827.6,1045.24 L1830,1046.47 L1832.4,1045.19 L1834,1043.3 L1837.2,1042.22 L1839.6,1042.01 L1842,1041.25 L1844.4,1040.75 L1846.8,1039.82 L1847.8,1039.92 L1849.2,1040.47 L1851.6,1043.27 L1854,1047.2 L1856.4,1050.97 L1858.8,1053.46 L1860,1054.79 L1861.2,1056.27 L1863.6,1057.13 L1866,1056.02 L1868.4,1056.01 L1870.6,1057.01 L1873.2,1058.04 L1875.6,1057.96 L1878,1058.77 L1881.2,1059.97 L1882.8,1062.08 L1885.2,1063.82 L1887.6,1066.25 L1889.7,1067.89 L1892.4,1076.74 L1894.8,1087.15 L1897.1,1091.47 L1899.6,1083.8 L1902.4,1069.77 L1904.4,1065.62 L1906.8,1061.13 L1909.2,1057.72 L1911.6,1055.51 L1913,1053.1 L1914,1053.63 L1916.4,1053.99 L1918.8,1052.45 L1921.2,1051.17 L1923.6,1050.98 L1925.7,1051.44 L1928.4,1052.8 L1930.8,1052.58 L1933.2,1051.03 L1934.2,1052.61 L1935.6,1052.87 L1938,1054.53 L1940.4,1057.84 L1942.8,1059.36 L1944.8,1063.57 L1947.6,1067.77 L1950,1071.64 L1953.3,1079.18 L1954.8,1082.98 L1957.2,1087.16 L1959.6,1090.4 L1961.8,1094.59 L1964.4,1099.12 L1966.8,1104.03 L1969.2,1108.56 L1970.3,1111.22 L1971.6,1113.59 L1974,1118.92 L1976.4,1121.27 L1978.7,1124.72 L1981.2,1130.88 L1983.6,1133.18 L1986,1136.29 L1987.2,1136.47 L1988.4,1137.91 L1990.8,1138.54 L1993.6,1139.6 L1995.6,1138.87 L1998,1135.43 L2000.4,1130.94 L2002.8,1127.39 L2004.2,1125.69 L2005.2,1125.9 L2007.6,1123.02 L2010,1119.99 L2012.4,1118.9 L2014.8,1119.21 L2017.2,1116.1 L2019.6,1115.63 L2022,1115.69 L2023.3,1115.37 L2024.4,1114.7 L2026.8,1110.79 L2029.2,1109.1 L2031.8,1107.31 L2034,1108.42 L2036.4,1112.7 L2038.8,1116.14 L2041.2,1120.08 L2042.4,1120.08 L2043.6,1120.04 L2046,1119.49 L2048.4,1117.4 L2050.8,1114.1 L2053.2,1113.11 L2055.1,1110.88 L2058,1110.24 L2060.4,1110.71 L2062.8,1109.41 L2065.7,1109.09 L2067.6,1107.57 L2070,1106.91 L2072.4,1104.94 L2074.8,1101.56 L2076.3,1101.08 L2079.6,1099.16 L2082,1096.67 L2084.4,1096.61 L2086.9,1095.95 L2089.2,1096.25 L2091.6,1096.71 L2094,1098.74 L2096.4,1101.02 L2097.5,1101.36 L2098.8,1103.37 L2101.2,1106.39 L2103.6,1114.55 L2106,1114.9 L2108.4,1119.71 L2110.8,1122.38 L2113.2,1122 L2114.5,1127.68 L2115.6,1133.69 L2118,1138.01 L2120.4,1138.89 L2122.9,1147.08 L2125.2,1149.42 L2127.6,1160.54 L2130,1164.42 L2131.4,1168.01 L2132.4,1169.51 L2134.8,1174.51 L2137.2,1182.19 L2139.9,1182.21 L2142,1181.96 L2144.4,1184.73 L2146.8,1197.13 L2149.2,1194.33 L2150.5,1196.03 L2151.6,1197.89 L2154,1203.47 L2156.9,1212.54 L2158.8,1214.69 L2161.2,1218.37 L2163.6,1222.91 L2166,1226.3 L2167.5,1227.19 L2168.4,1223.35 L2170.8,1230.4 L2173.2,1236.23 L2175.6,1241.97 L2178.1,1249.35 L2180.4,1251.6 L2182.8,1254.22 L2185.2,1262.63 L2186.5,1261.26 L2187.6,1262 L2190,1263.44 L2192.4,1266.57 L2194.8,1269.64 L2197.2,1270.28 L2199.3,1273.4 L2202,1275.2 L2204.4,1279.23 L2206.8,1282.29 L2209.9,1284.61 L2211.6,1286.07 L2214,1291.39 L2216.4,1291.79 L2218.8,1293.44 L2220.5,1291.21" fill="none" stroke="#008080" stroke-width="9.6" stroke-linejoin="round" stroke-linecap="round"/>
<path d="M196.9,578.26 L199.3,573.59 L201.7,573.03 L204.1,572.39 L206.5,572.46 L208.9,572.73 L211.3,572.42 L213.7,570.11 L216.1,572.92 L217.6,572.88 L218.5,570.99 L220.9,574.12 L223.3,572.98 L225.7,572.64 L228.1,569.14 L230.5,570.4 L232.9,572.71 L235.3,570.02 L238.3,570.79 L240.1,568.75 L242.5,571.78 L244.9,572.52 L247.3,572.12 L249.7,574.54 L252.1,572.73 L253.4,574.54 L254.5,576.24 L256.9,574.7 L259.3,574.79 L261.7,573.51 L264.1,574.28 L266.5,573.92 L268.9,575.41 L271.3,574.2 L272.7,572.81 L273.7,573.86 L276.1,573.57 L278.5,574.28 L280.9,572.96 L283.3,572.32 L286.5,573.09 L288.1,575.39 L290.5,572.85 L292.9,575.34 L295.3,574.12 L297.7,572.45 L300.1,573.44 L302.5,573.37 L304.9,579.32 L307.3,575.58 L308.6,574.14 L309.7,572.67 L312.1,572.34 L314.5,572.37 L316.9,572.87 L319.3,571.81 L322.4,574.66 L324.1,572.08 L326.5,573.47 L328.9,571.33 L331.3,571.6 L333.7,573.36 L336.1,575.45 L338.5,576.3 L341.7,575.13 L343.3,575.31 L345.7,577.36 L348.1,577.07 L350.5,579.18 L352.9,580.29 L355.3,579.97 L357.7,580.04 L361,581.93 L362.5,577.82 L364.9,577.81 L367.3,578.94 L369.7,576.63 L372.1,574.64 L374.5,574.94 L377.5,574.53 L379.3,574.57 L381.7,574.59 L384.1,576.71 L386.5,579.3 L388.9,579.6 L391.3,583 L393.7,585.13 L396.1,584.08 L398.5,584.71 L400.9,586.03 L403.3,587 L405.1,588.13 L408.1,590.61 L410.5,591.88 L412.9,592.14 L415.3,593.99 L417.7,595.47 L418.9,595.08 L420.1,595.27 L422.5,597.74 L424.9,597.83 L427.3,598.61 L429.7,599.25 L432.1,599.87 L434.5,600.47 L436.9,602.54 L438.2,602.31 L439.3,602.43 L441.7,602.66 L444.1,603.95 L446.5,604.3 L448.9,605.3 L451.3,605.84 L453.7,606.51 L456.1,607.11 L457.5,608.07 L458.5,608.16 L460.9,608.34 L463.3,608.81 L465.7,608.89 L468.1,609.06 L470.5,609.66 L472.9,609.47 L475.3,610.82 L477.7,611.09 L479.6,611.8 L482.5,612.46 L484.9,612.97 L487.3,613.77 L489.7,613.27 L492.1,614.92 L494.5,614.73 L496.9,616.03 L499.3,616.08 L501.7,616.45 L504.1,615.85 L507.2,616.45 L508.9,617.29 L511.3,616.95 L513.7,618.41 L516.1,618.85 L518.5,620.06 L520.9,618.87 L523.3,620.2 L525.7,621.08 L528.1,619.91 L530.5,621.14 L532.9,620.95 L534.7,621.35 L537.7,622 L540.1,621.48 L542.5,621.89 L544.9,620.83 L547.3,619.84 L549.7,619.69 L552.1,619.88 L554.5,620.77 L556.9,620.77 L559.3,620.66 L562.3,620.12 L564.1,619.66 L566.5,619.48 L568.9,619.93 L571.3,619.22 L573.7,618.7 L576.1,617.17 L578.5,616.57 L580.9,615.88 L583.3,614.95 L585.7,614.94 L588.1,613.49 L589.9,612.57 L592.9,612.12 L595.3,611.96 L597.7,610.46 L600.1,610.61 L602.5,610.74 L604.9,610.28 L607.3,609.28 L609.7,609.53 L612.1,609.42 L614.5,610.39 L617.5,608.4 L619.3,608.75 L621.7,607.23 L624.1,608.83 L626.5,608.28 L628.9,607.12 L631.3,607.69 L633.7,607.82 L636.1,607.98 L638.5,607.29 L640.9,607.06 L643.3,606.35 L645.7,605.59 L648.1,605.79 L650.5,605 L652.9,605.78 L655.3,606.12 L657.7,604.87 L658.8,603.57 L660.1,604.49 L662.5,603.76 L664.9,604.47 L667.3,603.05 L669.7,602.01 L672.1,602.35 L674.5,601.53 L676.9,600.83 L679.3,600.27 L681.7,599.36 L684.1,598.29 L686.4,598.8 L688.9,598.58 L691.3,597.39 L693.7,597.73 L696.1,597.88 L698.5,596.45 L700.9,596.25 L703.3,595.71 L705.7,596.14 L708.1,594.81 L710.5,593.47 L712.9,592.96 L714,593.68 L715.3,593.37 L717.7,593.43 L720.1,591.87 L722.5,592.2 L724.9,592.54 L727.3,591.15 L729.7,590.57 L732.1,590.42 L734.5,589.79 L736.9,589.28 L739.3,589.11 L741.6,589.42 L744.1,590.26 L746.5,589.43 L748.9,589.63 L750,589.82 L751.3,589.6 L753.7,590.08 L756.1,589.39 L758.5,589.32 L760.9,587.89 L763.3,587.83 L765.7,586.81 L768.1,586.58 L770.5,585.97 L772.9,585.88 L775.3,586.34 L777.6,585.89 L780.1,585.42 L782.5,585.09 L784.9,584.48 L787.3,584.48 L789.7,583.37 L792.1,583.19 L794.5,584.17 L796.9,584.16 L799.3,582.75 L801.7,583.57 L804.1,583.83 L805.2,583.21 L806.5,583.92 L808.9,583.84 L811.3,584.15 L813.7,583.25 L816.1,584.02 L819,584.78 L820.9,586.52 L823.3,587.36 L825.7,589.66 L828.1,591.04 L830,590.78 L832.9,590.49 L835.3,590.12 L837.7,589.14 L840.1,589.5 L842.5,590.52 L843.8,590.28 L844.9,589.2 L847.3,588.42 L849.7,585.95 L852.1,582.7 L854.5,580.77 L856.2,581.75 L859.3,582.26 L861.7,582.35 L864.1,581.61 L866.5,582.53 L868.9,583.12 L871.3,582.03 L874.1,582.2 L876.1,582.21 L878.5,582.62 L880.9,583.28 L883.3,582.92 L885.7,583.21 L888.1,583.11 L890.6,582.75 L892.9,582.25 L895.3,580.03 L897.7,578.54 L898.9,578.83 L900.1,579.01 L902.5,578.5 L904.9,578.16 L907.3,578.09 L909.7,577.1 L912.1,578.1 L914.5,577.68 L916.9,576.64 L919.3,575.7 L921.7,575.15 L924.1,575.75 L926.5,576.16 L929.3,575.95 L931.3,576.13 L933.7,575.49 L936.1,574.94 L938.5,574.55 L940.9,575.71 L943.3,575.29 L945.7,575.97 L948.1,574.71 L950.5,574.21 L952.9,574.6 L955.3,573.96 L957.7,575.04 L960.1,573.5 L962.5,572.98 L964.9,573.57 L967.3,574.53 L970.6,573.54 L972.1,573.51 L974.5,572.28 L976.9,573.77 L979.3,572.92 L981.7,573.39 L984.1,572.92 L986.5,572.16 L988.9,571.85 L991.3,571.87 L993.7,572.56 L996.1,572.9 L998.5,573.49 L1000.9,571.99 L1003.3,572.33 L1005.7,572.13 L1008.1,571.49 L1010.5,571.72 L1012.9,571.37 L1015.3,571.77 L1017.7,571.41 L1020.1,570.38 L1022.5,571.74 L1025.8,571.81 L1027.3,570.51 L1029.7,570.05 L1032.1,570.77 L1034.5,570.75 L1036.9,571.65 L1039.3,570.49 L1041.7,570.73 L1044.1,570.27 L1046.5,570.05 L1048.9,569.67 L1051.3,571.17 L1053.7,570.69 L1056.1,570.43 L1058.5,570.26 L1060.9,570.47 L1063.3,569.73 L1065.7,570.05 L1068.1,569.7 L1070.5,570.15 L1072.9,569.97 L1075.3,570.61 L1077.7,569.77 L1080.1,570.24 L1081,569.96 L1082.5,569.65 L1084.9,570.43 L1087.3,570.85 L1089.7,569.28 L1092.1,570.09 L1094.5,570.4 L1096.9,570.55 L1099.3,570.41 L1101.7,569.69 L1104.1,570 L1106.5,569.27 L1108.9,568.62 L1111.3,570.82 L1113.7,569.85 L1116.1,570.46 L1118.5,569.92 L1120.9,569.8 L1123.3,570.5 L1125.7,569.7 L1128.1,569.52 L1130.5,569.7 L1132.9,571.33 L1136.1,570.45 L1137.7,570.67 L1140.1,569.89 L1142.5,569.58 L1144.9,570.39 L1147.3,570.51 L1149.7,570.34 L1152.1,570.47 L1154.5,570.18 L1156.9,570.84 L1159.3,569.93 L1161.7,570.13 L1164.1,569.86 L1166.5,569.53 L1168.9,570.67 L1171.3,570.34 L1173.7,569.98 L1176.1,569.65 L1177.5,570.03 L1178.5,570.39 L1180.9,570.87 L1183.3,571.93 L1185.7,572.26 L1188.1,571.92 L1191.3,572.44 L1192.9,573.35 L1195.3,573.97 L1197.7,574.29 L1199.5,575.16 L1202.5,574.94 L1204.9,573.94 L1207.3,572.6 L1210.6,571.49 L1212.1,572.18 L1214.5,571.01 L1216.9,570.36 L1219.3,570.89 L1221.7,571.41 L1224.1,571.18 L1226.5,571.06 L1228.9,571.37 L1231.3,571.68 L1233.7,571.78 L1236.1,571.71 L1238.5,571.85 L1240.9,571.85 L1243.3,572.27 L1246.4,571.09 L1248.1,570.75 L1250.5,572.1 L1252.9,571.24 L1255.3,570.21 L1257.7,570.99 L1260.1,571.34 L1262.5,571.45 L1264.9,571.5 L1267.3,570.4 L1269.7,570.82 L1272.1,571.26 L1274.5,570.62 L1276.9,571.09 L1279.3,570.12 L1281.7,570.53 L1284.1,570.67 L1286.5,569.45 L1287.8,569.47 L1288.9,569.82 L1291.3,570.06 L1293.7,571.4 L1296.1,571.47 L1298.5,571.27 L1300.9,571.23 L1303.3,570.87 L1305.7,571.71 L1308.1,572.1 L1310,572.08 L1312.9,572.51 L1315.3,573.16 L1317.7,573.95 L1320.1,573.2 L1322.5,572.99 L1324.9,573.64 L1327.3,573.15 L1329.7,573.79 L1332.1,574.26 L1334.5,574.57 L1337.6,573.52 L1339.3,574.57 L1341.7,573.8 L1344.1,574.46 L1346.5,574.26 L1348.9,574.57 L1351.3,574.37 L1353.7,573.28 L1356.1,573 L1358.5,574.02 L1360.9,572.49 L1363.3,572.74 L1365.7,571.76 L1368.1,571.55 L1370.5,571.79 L1372.9,571.74 L1375.3,570.46 L1377.7,570.56 L1379,571.95 L1380.1,570.66 L1382.5,570.49 L1384.9,569.88 L1387.3,570.85 L1389.7,569.89 L1392.1,570.56 L1394.5,571.12 L1396.9,571.24 L1399.3,570.48 L1401.7,571.59 L1404.1,570.81 L1406.5,570.93 L1408.9,569.92 L1411.3,570 L1413.7,568.92 L1416.1,569.58 L1418.5,570.23 L1420.9,571.02 L1423.3,569.98 L1425.7,569.07 L1428.1,569.09 L1430.5,569.83 L1432.9,569.46 L1434.1,570.2 L1435.3,569.88 L1437.7,570.08 L1440.1,569.36 L1442.5,569.48 L1444.9,568.68 L1447.3,569.2 L1449.7,569.01 L1452.1,569.3 L1454.5,568.12 L1456.9,567.87 L1459.3,568.51 L1461.7,569.22 L1464.1,567.98 L1466.5,567.19 L1468.9,567.63 L1471.3,567.46 L1473.7,568.05 L1476.1,568.89 L1478.5,568.06 L1480.9,567.88 L1483.3,567.96 L1485.7,567.45 L1488.1,567.36 L1489.3,567.97 L1490.5,567.68 L1492.9,568.53 L1495.3,567.61 L1497.7,568.2 L1500.1,567.04 L1502.5,568.18 L1504.9,568.82 L1507.3,568.48 L1509.7,568.62 L1512.1,568.8 L1514.5,568.35 L1516.9,568.44 L1519.3,569.63 L1521.7,569.77 L1524.1,570.38 L1526.5,569.66 L1528.9,569.06 L1530.6,570.02 L1533.7,570.98 L1536.1,571.23 L1538.5,571.55 L1540.9,573.91 L1543.3,574.46 L1545.7,574.95 L1548.1,575.86 L1549.9,576.03 L1552.9,578.37 L1555.3,581.31 L1557.7,585.15 L1559.6,589.35 L1562.5,603.49 L1565.1,622.88 L1567.3,642.98 L1570.6,677.61 L1572.1,692.45 L1574.5,715.75 L1576.1,726.13 L1579.3,743.58 L1581.7,750.69 L1583,752.66 L1584.1,751.79 L1586.5,748.9 L1588.5,744.27 L1591.3,723.59 L1594.1,692.01 L1596.1,669.64 L1598.5,645.07 L1599.6,636.45 L1600.9,630.77 L1603.3,620.84 L1606.5,611.32 L1608.1,608.98 L1610.5,605.69 L1613.4,602.67 L1615.3,599.9 L1617.7,598.75 L1620.1,597.24 L1621.6,597.22 L1622.5,597.83 L1624.9,599.43 L1627.3,603.38 L1629.7,606.35 L1632.7,609.18 L1634.5,610.12 L1636.9,610.75 L1639.3,612.49 L1641.7,612.24 L1644.1,612.41 L1645.1,613.14 L1646.5,612.78 L1648.9,611.22 L1651.3,609.04 L1653.7,606.12 L1656.1,603.01 L1657.5,602.22 L1658.5,601.37 L1660.9,597.4 L1663.3,593.12 L1665.7,590.01 L1668.1,585.97 L1670.5,582.5 L1672.9,582.44 L1674,581.45 L1675.3,581.62 L1677.7,583.96 L1680.1,586.42 L1682.5,590.26 L1685.1,590.92 L1687.3,591.31 L1689.7,589.77 L1692.1,588.97 L1694.5,589.59 L1696.9,590.08 L1699.3,589.54 L1701.7,589.08 L1704.1,588.64 L1706.5,587.46 L1708.9,586.81 L1709.9,587.61 L1711.3,587.03 L1713.7,588.59 L1716.1,588.84 L1718.5,588.26 L1720.9,588.3 L1723.3,587.98 L1725.7,589.39 L1728.1,589.61 L1729.2,589.78 L1730.5,588.67 L1732.9,589.35 L1735.3,591.52 L1737.7,591.98 L1740.1,593.55 L1742.5,596.56 L1744.9,597.79 L1747.3,598.87 L1749.7,600.27 L1751.3,599.68 L1754.5,601.05 L1756.9,604 L1759.3,605.76 L1761.7,607.13 L1764.1,608.28 L1766.5,609.13 L1768.9,609.75 L1771.3,610.25 L1773.3,609.79 L1776.1,609.37 L1778.5,606.69 L1780.9,604.46 L1783.3,601.32 L1785.7,598.08 L1788.1,595.29 L1789.9,594.98 L1792.9,600.09 L1795.3,608.28 L1798.1,619.43 L1800.1,630.52 L1802.5,645.19 L1805,662.06 L1807.3,673.97 L1809.7,681.6 L1812.1,674.98 L1814.7,661.32 L1816.9,642.39 L1819.3,617.01 L1820.2,611.5 L1821.7,605.74 L1824.1,599.09 L1825.7,597.64 L1828.9,598.29 L1831.3,599.41 L1833.7,600.1 L1836.1,600.34 L1838.5,601.81 L1840.9,602.49 L1842.3,603.16 L1843.3,603.81 L1845.7,601.99 L1848.1,601.26 L1850.5,600.65 L1852.9,601.81 L1855.3,603.58 L1857.7,605.29 L1860,609.98 L1862.5,616.45 L1864.9,628.17 L1866.4,635.56 L1869.7,656.58 L1872.7,676.84 L1874.5,690.91 L1876.9,711.58 L1879.1,730.49 L1881.7,752.22 L1884.1,772.72 L1885.4,783.31 L1886.5,793.86 L1888.9,815.9 L1891.8,836.4 L1893.7,844.21 L1896.1,851.16 L1897.1,852.42 L1898.5,852.9 L1900.9,848.21 L1903.5,840.52 L1905.7,824.23 L1908.8,784.67 L1910.5,759 L1913,719.31 L1915.3,683.01 L1917.3,661.03 L1920.1,643.09 L1922.6,635.13 L1924.9,636.9 L1927.3,643.31 L1930,648.09 L1932.1,652.3 L1934.5,659.49 L1936.9,664.15 L1938.5,664.31 L1941.7,659.59 L1944.1,654.08 L1946.5,647.07 L1949.1,644.14 L1951.3,646.81 L1953.7,654.03 L1956.1,660.81 L1957.5,663.12 L1958.5,664.03 L1960.9,663.23 L1963.3,662.06 L1966,663.39 L1968.1,662.74 L1970.5,663.24 L1972.9,663.71 L1974.5,664.13 L1977.7,673.85 L1980.9,688.01 L1982.5,696.75 L1984.9,712.42 L1987.2,727.01 L1989.7,736.97 L1992.1,746.46 L1993.6,753.19 L1994.5,756.73 L1996.9,773.11 L2000,794.62 L2001.7,806.17 L2004.1,823.84 L2006.3,836.52 L2008.9,851.19 L2011.3,860.9 L2012.7,861.45 L2013.7,862.28 L2016.1,857.22 L2019,847.56 L2020.9,832.83 L2023.3,801.2 L2025.4,772.35 L2028.1,738.44 L2030.5,710.43 L2031.8,699.28 L2032.9,690.76 L2035.3,678.3 L2038.1,670.35 L2040.1,667.06 L2042.5,664.77 L2044.5,662.32 L2047.3,654.82 L2049.7,646.22 L2050.8,642.25 L2052.1,638.07 L2054.5,629.87 L2057.2,624.33 L2059.3,624.89 L2061.7,625.26 L2064.1,626.38 L2065.7,627.44 L2068.9,624.69 L2071.3,622.06 L2074.2,621.4 L2076.1,620.33 L2078.5,623.66 L2080.9,627.65 L2083.3,631.56 L2084.8,632.61 L2088.1,637.65 L2090.5,641.97 L2093.2,646.29 L2095.3,653.46 L2098.5,659.59 L2100.1,654.79 L2102.5,640.92 L2103.9,635.93 L2104.9,633.44 L2107.3,630.66 L2110.2,629.25 L2112.1,629.92 L2114.5,630.4 L2116.6,629.93 L2119.3,625.38 L2121.7,617.1 L2122.9,616.19 L2124.1,616.06 L2126.5,617 L2128.9,618.53 L2131.4,618.99 L2133.7,619.49 L2136.1,620.46 L2138.5,620.91 L2139.9,621.72 L2140.9,622.33 L2143.3,622.38 L2145.7,622.47 L2148.1,623.07 L2150.5,622.75 L2152.9,622.61 L2155.3,623.09 L2156.9,624.66 L2160.1,625.59 L2162.5,625.67 L2164.9,626.52 L2167.3,626.77 L2169.7,626.47 L2172.1,627.55 L2173.8,627.99 L2176.9,630.06 L2179.3,632.15 L2181.7,634.59 L2184.1,636.14 L2186.5,636.06 L2188.7,637.11 L2191.3,637.64 L2193.7,638.01 L2196.1,638.36 L2198.5,638.07 L2201.4,638.31 L2203.3,641.3 L2205.7,647.42 L2207.8,651.93 L2210.5,654.64 L2212.9,656.28 L2216.2,658.23 L2217.7,661.26 L2220.1,664.98 L2221.5,667.65" fill="none" stroke="#0000ff" stroke-width="9.6" stroke-linejoin="round" stroke-linecap="round"/>
<path d="M205,229.98 L207.4,230.07 L209.8,224.44 L212.2,224.56 L214.6,224.66 L217.6,224.46 L219.4,224.25 L221.8,224.17 L224.2,225.1 L226.6,233.1 L229,234.2 L231.4,225.73 L233.8,224.11 L236.2,227.62 L238.6,229.21 L241,240.38 L243.4,230.67 L245.2,229.97 L248.2,231.76 L250.6,231.86 L253,232.15 L255.4,229.08 L257.8,227.78 L260.2,230.6 L261.7,231.22 L262.6,227.67 L265,230.02 L267.4,232.86 L269.8,231.23 L272.2,235.08 L274.6,233.91 L277,240.02 L279.4,240.26 L281,244.76 L284.2,238.4 L286.6,235.5 L289,232.58 L291.4,235.52 L293.8,236.36 L296.2,247.05 L298.6,239.86 L300.3,235.29 L303.4,241.83 L305.8,239.89 L308.2,232.49 L310.6,234.01 L313,235.45 L315.4,229.2 L317.8,232.02 L320.2,227.55 L322.4,228.81 L325,237.11 L327.4,238.45 L329.8,234.39 L332.2,232.42 L334.6,234.46 L337,239 L339.4,240.7 L341.7,234.4 L344.2,235.37 L346.6,243.94 L349,236.78 L351.4,236.02 L353.8,234.87 L356.2,237.68 L358.6,235.61 L361,235.23 L363.4,238.44 L365.8,238.63 L368.2,236.91 L370.6,233.7 L373,237.4 L374.8,234.74 L377.8,241.23 L380.2,238.01 L382.6,243.04 L385,239.51 L387.4,241.45 L388.6,244.75 L389.8,248.02 L392.2,250.5 L394.6,252.5 L397,252.14 L399.6,261.4 L401.8,261.86 L404.2,262.54 L406.6,264.11 L409,265.82 L410.6,271.83 L413.8,274.67 L416.2,279.71 L418.6,285.94 L421.7,289.19 L423.4,289.3 L425.8,292.41 L428.2,292.74 L430.6,296.71 L433,296.26 L435.4,300.11 L438.2,305.66 L440.2,303.95 L442.6,302.08 L445,305.68 L447.4,306.17 L449.8,309.96 L452,311.75 L454.6,314.71 L457,314.7 L459.4,316.96 L461.8,318.68 L464.2,326.33 L465.8,324.75 L469,325.8 L471.4,327 L473.8,330.49 L476.2,331.99 L478.6,332.6 L481,332.18 L483.4,338.1 L485.8,337.44 L487.9,336.39 L490.6,343.91 L493,341.89 L495.4,343.72 L497.8,347.84 L500.2,348.51 L502.6,350.26 L505,354.04 L507.2,355.32 L509.8,356.35 L512.2,355.65 L514.6,355.73 L517,357.82 L519.4,360.92 L521.8,362.36 L524.2,361.8 L526.6,361.5 L529.2,366.55 L531.4,369.8 L533.8,367.2 L536.2,366.2 L538.6,370.21 L541,372.61 L543.4,373.68 L545.8,376.29 L548.5,374.06 L550.6,378.75 L553,380.83 L555.4,381.82 L557.8,385.14 L560.2,382.86 L562.3,381.58 L565,382.79 L567.4,381.54 L569.8,381.54 L572.2,380.96 L574.6,380.4 L577,380.26 L579.4,379.45 L581.6,378.17 L584.2,378.14 L586.6,377.83 L589,378.01 L591.4,376.15 L593.8,374.51 L596.2,373.88 L598.6,373.7 L601,372.14 L603.7,371.13 L605.8,371.2 L608.2,370.35 L610.6,369.74 L613,368.55 L615.4,367.59 L617.8,367.11 L620.2,366.58 L622.6,365.82 L625,365.55 L627.4,365.02 L629.8,364.33 L631.3,363.82 L632.2,362.7 L634.6,361.55 L637,361.83 L639.4,360.91 L641.8,360.16 L644.2,358.62 L646.6,358.15 L649,357.16 L651.4,356.09 L653.8,355.25 L656.2,353.77 L658.8,353.43 L661,353.25 L663.4,351.1 L665.8,349.92 L668.2,347.77 L670.6,347.06 L672.6,346.68 L675.4,343.11 L677.8,341.41 L680.2,340.5 L682.6,338.17 L685,335.84 L686.4,333.24 L687.4,333.06 L689.8,331.65 L692.2,329.83 L694.6,327.06 L697,323.73 L699.4,320.91 L701.8,317.68 L704.2,315.51 L705.7,315.47 L709,312.14 L711.4,309.21 L713.8,308.5 L716.2,305.09 L718.6,304.4 L721,301.82 L723.4,299.97 L725.8,298.11 L727.8,296.1 L730.6,293.88 L733,290.75 L735.4,287.81 L737.8,285.03 L740.2,282.19 L741.6,281.28 L742.6,281.58 L745,279.99 L747.4,278.68 L749.8,277.67 L752.2,275.42 L754.6,273.62 L757,271.01 L758.1,270.67 L759.4,271.49 L761.8,269.66 L764.2,267.87 L766.6,266.79 L769,264.34 L771.4,263.47 L773.8,262.14 L776.2,260.46 L777.6,261.38 L778.6,261.49 L781,259.72 L783.4,258.51 L785.8,256.32 L788.2,255.53 L790.6,254.52 L793,253.78 L795.4,252.78 L797.8,251.18 L800.2,249.85 L802.6,248.75 L805.2,248.5 L807.4,249.24 L809.8,249.5 L812.2,249.34 L814.6,250.39 L817,250.21 L819.4,249.9 L821.8,249.8 L824.2,250.04 L826.6,249.58 L829,249.48 L831.4,250.27 L832.7,249.94 L833.8,249.99 L836.2,250.54 L838.6,249.3 L841,249.15 L843.4,247.56 L845.8,247.24 L848.2,245.81 L849.3,243.92 L850.6,244.76 L853,243.22 L855.4,240.86 L857.8,240.55 L860.2,239.68 L862.6,237.82 L865.8,236.8 L867.4,237.06 L869.8,237.1 L872.2,236.5 L874.6,235.95 L877,235.32 L879.4,232.76 L881.8,232.52 L884.2,232.65 L886.6,230.92 L889,231.87 L891.4,231.92 L893.4,230.7 L896.2,230.18 L898.6,229.43 L901,229.49 L903.4,229.23 L905.8,228.91 L908.2,227.97 L910.6,228.29 L913,227.72 L915.4,228.11 L917.8,227.63 L921,226.11 L922.6,225.61 L925,226.14 L927.4,225.77 L929.8,226.04 L932.2,226.15 L934.6,225.54 L937,224.18 L939.4,223.94 L941.8,224.82 L943,224.08 L944.2,225.11 L946.6,224.58 L949,224.69 L951.4,223.79 L953.8,223.91 L956.2,222.6 L958.6,223.33 L961,223.96 L963.4,223.22 L965.8,223 L968.2,223.39 L970.6,223.57 L973,223.11 L975.4,223.86 L977.8,222.69 L980.2,224 L982.6,222.88 L985,222.89 L987.4,224.19 L989.8,223.18 L992.2,222.48 L994.6,223.31 L997,222.96 L999.4,222.74 L1001.8,222.92 L1004.2,222.95 L1006.6,222.82 L1009,222.75 L1012,224.31 L1013.8,223.41 L1016.2,224.1 L1018.6,222.85 L1021,223.61 L1023.4,222.72 L1025.8,222.88 L1028.2,223.53 L1030.6,222.97 L1033,221.89 L1035.4,222.36 L1037.8,222.68 L1040.2,223.17 L1042.6,222.33 L1045,222.46 L1047.4,222.69 L1049.8,221.71 L1052.2,222.34 L1053.4,222.09 L1054.6,222.78 L1057,222.67 L1059.4,222.61 L1061.8,221.38 L1064.2,222.29 L1066.6,222.42 L1069,222.14 L1071.4,222.35 L1073.8,221.98 L1076.2,222.77 L1078.6,223.33 L1081,223.49 L1083.4,222.9 L1085.8,224.08 L1088.2,223.98 L1090.6,222.9 L1093,223.1 L1095.4,222.3 L1097.8,223.01 L1100.2,223.75 L1102.6,224.34 L1105,223.54 L1107.4,222.51 L1108.5,223.18 L1109.8,224.31 L1112.2,223.96 L1114.6,224.56 L1117,224.5 L1119.4,224.95 L1121.8,224.54 L1124.2,223.69 L1126.6,224.13 L1129,225.34 L1131.4,224.11 L1133.8,222.96 L1136.2,225.03 L1138.6,224.66 L1141,223.96 L1143.4,223.8 L1145.8,223.23 L1148.2,224.44 L1150.6,224.5 L1153,224.09 L1155.4,224.13 L1157.8,224.18 L1160.2,225.14 L1162.6,224.72 L1163.7,225.54 L1165,224.48 L1167.4,224.35 L1169.8,224.42 L1172.2,224.44 L1174.6,224.76 L1177,225.59 L1179.4,226.01 L1181.8,224.86 L1184.2,226.04 L1185.7,225.75 L1189,227.91 L1191.4,229.23 L1193.8,231.33 L1195.4,234.14 L1198.6,242.71 L1200.9,246.07 L1203.4,242.89 L1205.8,237.51 L1207.8,235.41 L1210.6,234.44 L1213,234.78 L1215.4,235.93 L1217.8,236.54 L1218.8,236.21 L1220.2,235.29 L1222.6,236.54 L1225,235.4 L1227.4,233.97 L1229.8,234.39 L1232.2,233.49 L1234.6,232.41 L1237,231.28 L1239.4,230.19 L1241.8,228.49 L1244.2,228.34 L1246.4,228.48 L1249,228.75 L1251.4,228.78 L1253.8,227.97 L1256.2,228.04 L1258.6,228.32 L1261,228.6 L1263.4,228.39 L1265.8,227.89 L1268.2,228.24 L1270.6,229.4 L1273,229.7 L1275.4,230.29 L1277.8,229.14 L1280.2,229.82 L1282.6,230.95 L1285,229.71 L1287.8,230.03 L1289.8,229.86 L1292.2,231.69 L1294.6,231.67 L1297,231.44 L1299.4,231.96 L1301.8,232.12 L1304.2,232.92 L1306.6,233.47 L1309,233.64 L1311.4,233.5 L1313.8,233.86 L1316.2,234.14 L1318.6,234.58 L1320,232.97 L1321,233.84 L1323.4,234.15 L1325.8,234.48 L1328.2,234.5 L1330.6,234.77 L1333,235.31 L1335.4,235.36 L1337.6,235.34 L1340.2,234.56 L1342.6,234.14 L1345,234.2 L1347.4,233.46 L1349.8,233.83 L1352.2,233.55 L1354.6,232.69 L1357,232.13 L1359.4,232.62 L1361.8,232.47 L1364.2,233.84 L1366.6,233.25 L1369,231.86 L1371.4,231.41 L1373.8,230.78 L1376.2,230.56 L1379,230.58 L1381,230.68 L1383.4,230.22 L1385.8,230.79 L1388.2,230.71 L1390.6,231.33 L1393,229.4 L1395.4,229.88 L1397.8,229.25 L1400.2,228.19 L1402.6,228.54 L1405,227.72 L1407.4,228.35 L1409.8,229.79 L1412.2,229.62 L1414.6,229.82 L1417,229.48 L1420.3,227.72 L1421.8,228.37 L1424.2,228.41 L1426.6,228.59 L1429,227.76 L1431.4,226.95 L1433.8,229.16 L1436.2,229.27 L1438.6,228.78 L1441,228.15 L1443.4,228.36 L1445.8,227.57 L1448.2,228.66 L1450.6,228.51 L1453,228.27 L1455.4,228.03 L1457.8,228.18 L1460.2,228.34 L1461.7,228.07 L1465,228.67 L1467.4,228.18 L1469.8,227.58 L1472.2,226.62 L1474.6,227.25 L1477,227.16 L1479.4,226.46 L1481.8,224.46 L1484.2,224.55 L1486.6,225.25 L1489.3,224.86 L1491.4,225.55 L1493.8,224.86 L1496.2,225.57 L1498.6,225.85 L1501,224.56 L1503.4,225.53 L1505.8,226.21 L1508.2,226.48 L1510.6,226.69 L1513,228.51 L1515.4,228.27 L1516.8,228.82 L1517.8,227.77 L1520.2,227.24 L1522.6,228.2 L1525,229.17 L1527.4,228.94 L1529.8,229.8 L1532.2,230.43 L1534.6,230.11 L1537,230.55 L1538.9,230.54 L1541.8,232.43 L1544.2,234.31 L1546.6,235.23 L1549,236.19 L1551.4,237.75 L1552.7,239 L1553.8,240.69 L1556.2,242.28 L1558.6,246.56 L1561,249.8 L1563.4,260.43 L1565.1,271.74 L1568.2,295.88 L1569.2,304.24 L1570.6,322.14 L1573.4,360.78 L1575.4,378.77 L1577.8,394.12 L1578.9,400.48 L1580.2,407.23 L1582.6,414.29 L1585.8,420.35 L1587.4,417.24 L1589.8,412.31 L1591.3,405.78 L1592.2,401.72 L1594.6,380.94 L1596.8,358.18 L1599.4,334.32 L1602.3,314.94 L1604.2,307.92 L1606.6,303.1 L1607.8,300.64 L1609,299.91 L1611.4,295.46 L1613.8,292.73 L1614.7,293.31 L1616.2,293.99 L1618.6,293.84 L1621,294.82 L1623.4,296.25 L1625.8,297.33 L1627.2,297.83 L1628.2,300.33 L1630.6,308.61 L1633,317.8 L1635.4,323.65 L1637.8,323.74 L1640.2,323.59 L1642.6,323 L1645,323.15 L1646.5,323.69 L1647.4,323.59 L1649.8,320.72 L1652.2,316.47 L1654.6,311.94 L1657,306.26 L1660.2,299.14 L1661.8,294.08 L1664.2,287.79 L1666.6,288.66 L1669,273.59 L1671.3,267.06 L1673.8,266.96 L1676.2,259.68 L1678.6,254.89 L1681,255.22 L1682.3,258.93 L1683.4,253.37 L1685.8,254.94 L1688.2,251.96 L1690.6,250.7 L1693,255.19 L1695.4,257.53 L1697.8,260.66 L1700.2,254.61 L1702.6,253.25 L1705,252.48 L1707.4,248.14 L1709.9,248.43 L1712.2,249.64 L1714.6,252.15 L1717,250.3 L1719.4,249.29 L1721.8,251.4 L1724.2,250.78 L1726.6,249.12 L1729,248.34 L1731.4,245.8 L1733.8,250.72 L1736.2,247.08 L1738.6,250.53 L1740.2,246.9 L1743.4,248.5 L1745.8,247.87 L1748.2,255.31 L1751.3,260.28 L1753,262.34 L1755.4,271.95 L1756.8,276 L1757.8,277.94 L1760.2,269.1 L1762.6,266.15 L1765,261.56 L1767.4,263.78 L1769.8,267 L1772.2,270.36 L1774.6,274.23 L1776.1,275.23 L1777,274.06 L1779.4,271.88 L1781.8,268.23 L1784.2,264.94 L1786.6,261.58 L1789,258.84 L1789.9,258.43 L1791.4,258.39 L1793.8,264.81 L1796.2,272.73 L1798.1,280.22 L1801,298.17 L1803.6,317.44 L1805.8,334.75 L1808.2,351.7 L1809.2,352.25 L1810.6,351.16 L1813,341.75 L1814.7,331.1 L1817.8,294.4 L1818.8,285.22 L1820.2,277.15 L1822.6,265.16 L1825.7,259.28 L1827.4,259.29 L1829.8,258.49 L1832.2,260.38 L1834.6,260.61 L1837,262.58 L1839.5,263.08 L1841.8,261.8 L1844.2,259.77 L1846.6,257.39 L1847.8,258.1 L1849,259.55 L1851.4,261.41 L1853.8,263.95 L1856.2,267.34 L1858.8,271.51 L1861,275.38 L1863.4,281.38 L1866.4,292.13 L1868.2,302.02 L1870.6,314.28 L1872.7,327.98 L1875.4,345.87 L1877.8,362.19 L1879.1,370.57 L1880.2,379.48 L1882.6,400.7 L1885.4,423.85 L1887.4,442.63 L1889.8,465.22 L1891.8,477.44 L1894.6,489.13 L1897,495.69 L1898.2,498.17 L1899.4,497.24 L1901.8,491.1 L1904.5,480.74 L1906.6,462.75 L1908.8,433.34 L1911.4,393.77 L1913,371.19 L1916.2,335.29 L1917.3,327.79 L1918.6,323.32 L1921,316.07 L1923.6,311.84 L1925.8,314.25 L1928.2,320.74 L1930,324.19 L1933,331.28 L1935.4,336.8 L1937.4,338.49 L1940.2,334.27 L1942.6,326.81 L1943.8,323.72 L1945,321.98 L1947.4,318.51 L1949.1,316.43 L1952.2,321.04 L1955.4,328.1 L1957,331.6 L1959.4,337.57 L1960.7,337.54 L1961.8,337.57 L1964.2,337.09 L1967.1,335.43 L1969,334.72 L1971.4,330.34 L1973.4,328.49 L1976.2,335.52 L1978.7,345.1 L1981,356.83 L1983.4,372.43 L1985.1,381.58 L1988.2,391.79 L1990.6,399.03 L1991.5,402.88 L1993,409.91 L1995.4,427.19 L1997.8,444.12 L2000.2,461.65 L2002.6,478.77 L2004.2,487.86 L2007.4,499.72 L2010.6,507.88 L2012.2,510.07 L2014.6,512.16 L2016.9,513.39 L2019.4,502.7 L2021.8,480.58 L2023.3,466.1 L2024.2,457.04 L2026.6,426.15 L2029.6,392.82 L2031.4,381.25 L2033.8,369.12 L2036,361.81 L2038.6,357.41 L2041,353.71 L2043.4,350.09 L2044.5,347.95 L2045.8,344.29 L2048.2,335.27 L2050.8,328.39 L2053,323.41 L2055.4,318.7 L2057.2,316.52 L2060.2,315.34 L2062.6,315.44 L2065,314.84 L2067.8,313.72 L2069.8,312.08 L2072.2,309.07 L2074.2,308.16 L2077,309.71 L2079.4,313.98 L2080.5,316.61 L2081.8,317.63 L2084.2,321.35 L2086.6,323.62 L2089,329.59 L2091.4,336.78 L2093.8,347.7 L2095.4,349.1 L2098.6,345.44 L2101,341.04 L2103.9,337.87 L2105.8,337.34 L2108.2,338.1 L2110.6,337.05 L2113,336.52 L2114.5,336.02 L2115.4,336.15 L2117.8,334.93 L2120.2,335.93 L2122.6,334.63 L2125.1,334.13 L2127.4,337.12 L2129.8,341.43 L2132.2,346.32 L2133.5,348.68 L2134.6,348.97 L2137,352.15 L2139.4,352.44 L2141.8,354.73 L2144.1,354.18 L2146.6,356.59 L2149,358.66 L2151.4,360.07 L2153.8,363.95 L2156.9,367.98 L2158.6,367.82 L2161,372.37 L2163.4,373.69 L2165.8,374.97 L2167.5,376.43 L2170.6,380.93 L2173,382.35 L2175.9,390.72 L2177.8,389.89 L2180.2,396.3 L2182.6,400.08 L2184.4,404.53 L2187.4,400.42 L2189.8,396.7 L2190.8,394.71 L2192.2,392.62 L2194.6,395.44 L2197,401.77 L2199.3,403.41 L2201.8,404.81 L2204.2,409.58 L2206.6,411.02 L2209,415.65 L2209.9,418.07 L2211.4,418.77 L2213.8,418.85 L2216.2,421.64 L2218.6,423.55 L2220.5,425.03" fill="none" stroke="#800000" stroke-width="9.6" stroke-linejoin="round" stroke-linecap="round"/>
<rect x="189" y="24" width="2037" height="7" fill="#000"/>
<rect x="189" y="1671" width="2037" height="7" fill="#000"/>
<rect x="189" y="24" width="7" height="1654" fill="#000"/>
<rect x="2219" y="24" width="7" height="1654" fill="#000"/>
<rect x="184" y="71" width="13" height="1609" fill="#000"/>
<rect x="189" y="1678" width="7" height="29" fill="#000"/>
<rect x="189" y="31" width="7" height="30" fill="#000"/>
<rect x="342.73" y="1678" width="7" height="12" fill="#000"/>
<rect x="342.73" y="31" width="7" height="13" fill="#000"/>
<rect x="496.46" y="1678" width="7" height="29" fill="#000"/>
<rect x="496.46" y="31" width="7" height="30" fill="#000"/>
<rect x="650.2" y="1678" width="7" height="12" fill="#000"/>
<rect x="650.2" y="31" width="7" height="13" fill="#000"/>
<rect x="803.93" y="1678" width="7" height="29" fill="#000"/>
<rect x="803.93" y="31" width="7" height="30" fill="#000"/>
<rect x="957.66" y="1678" width="7" height="12" fill="#000"/>
<rect x="957.66" y="31" width="7" height="13" fill="#000"/>
<rect x="1111.39" y="1678" width="7" height="29" fill="#000"/>
<rect x="1111.39" y="31" width="7" height="30" fill="#000"/>
<rect x="1265.13" y="1678" width="7" height="12" fill="#000"/>
<rect x="1265.13" y="31" width="7" height="13" fill="#000"/>
<rect x="1418.86" y="1678" width="7" height="29" fill="#000"/>
<rect x="1418.86" y="31" width="7" height="30" fill="#000"/>
<rect x="1572.59" y="1678" width="7" height="12" fill="#000"/>
<rect x="1572.59" y="31" width="7" height="13" fill="#000"/>
<rect x="1726.33" y="1678" width="7" height="29" fill="#000"/>
<rect x="1726.33" y="31" width="7" height="30" fill="#000"/>
<rect x="1880.06" y="1678" width="7" height="12" fill="#000"/>
<rect x="1880.06" y="31" width="7" height="13" fill="#000"/>
<rect x="2033.79" y="1678" width="7" height="29" fill="#000"/>
<rect x="2033.79" y="31" width="7" height="30" fill="#000"/>
<rect x="2187.52" y="1678" width="7" height="12" fill="#000"/>
<rect x="2187.52" y="31" width="7" height="13" fill="#000"/>
</svg></body></html>
